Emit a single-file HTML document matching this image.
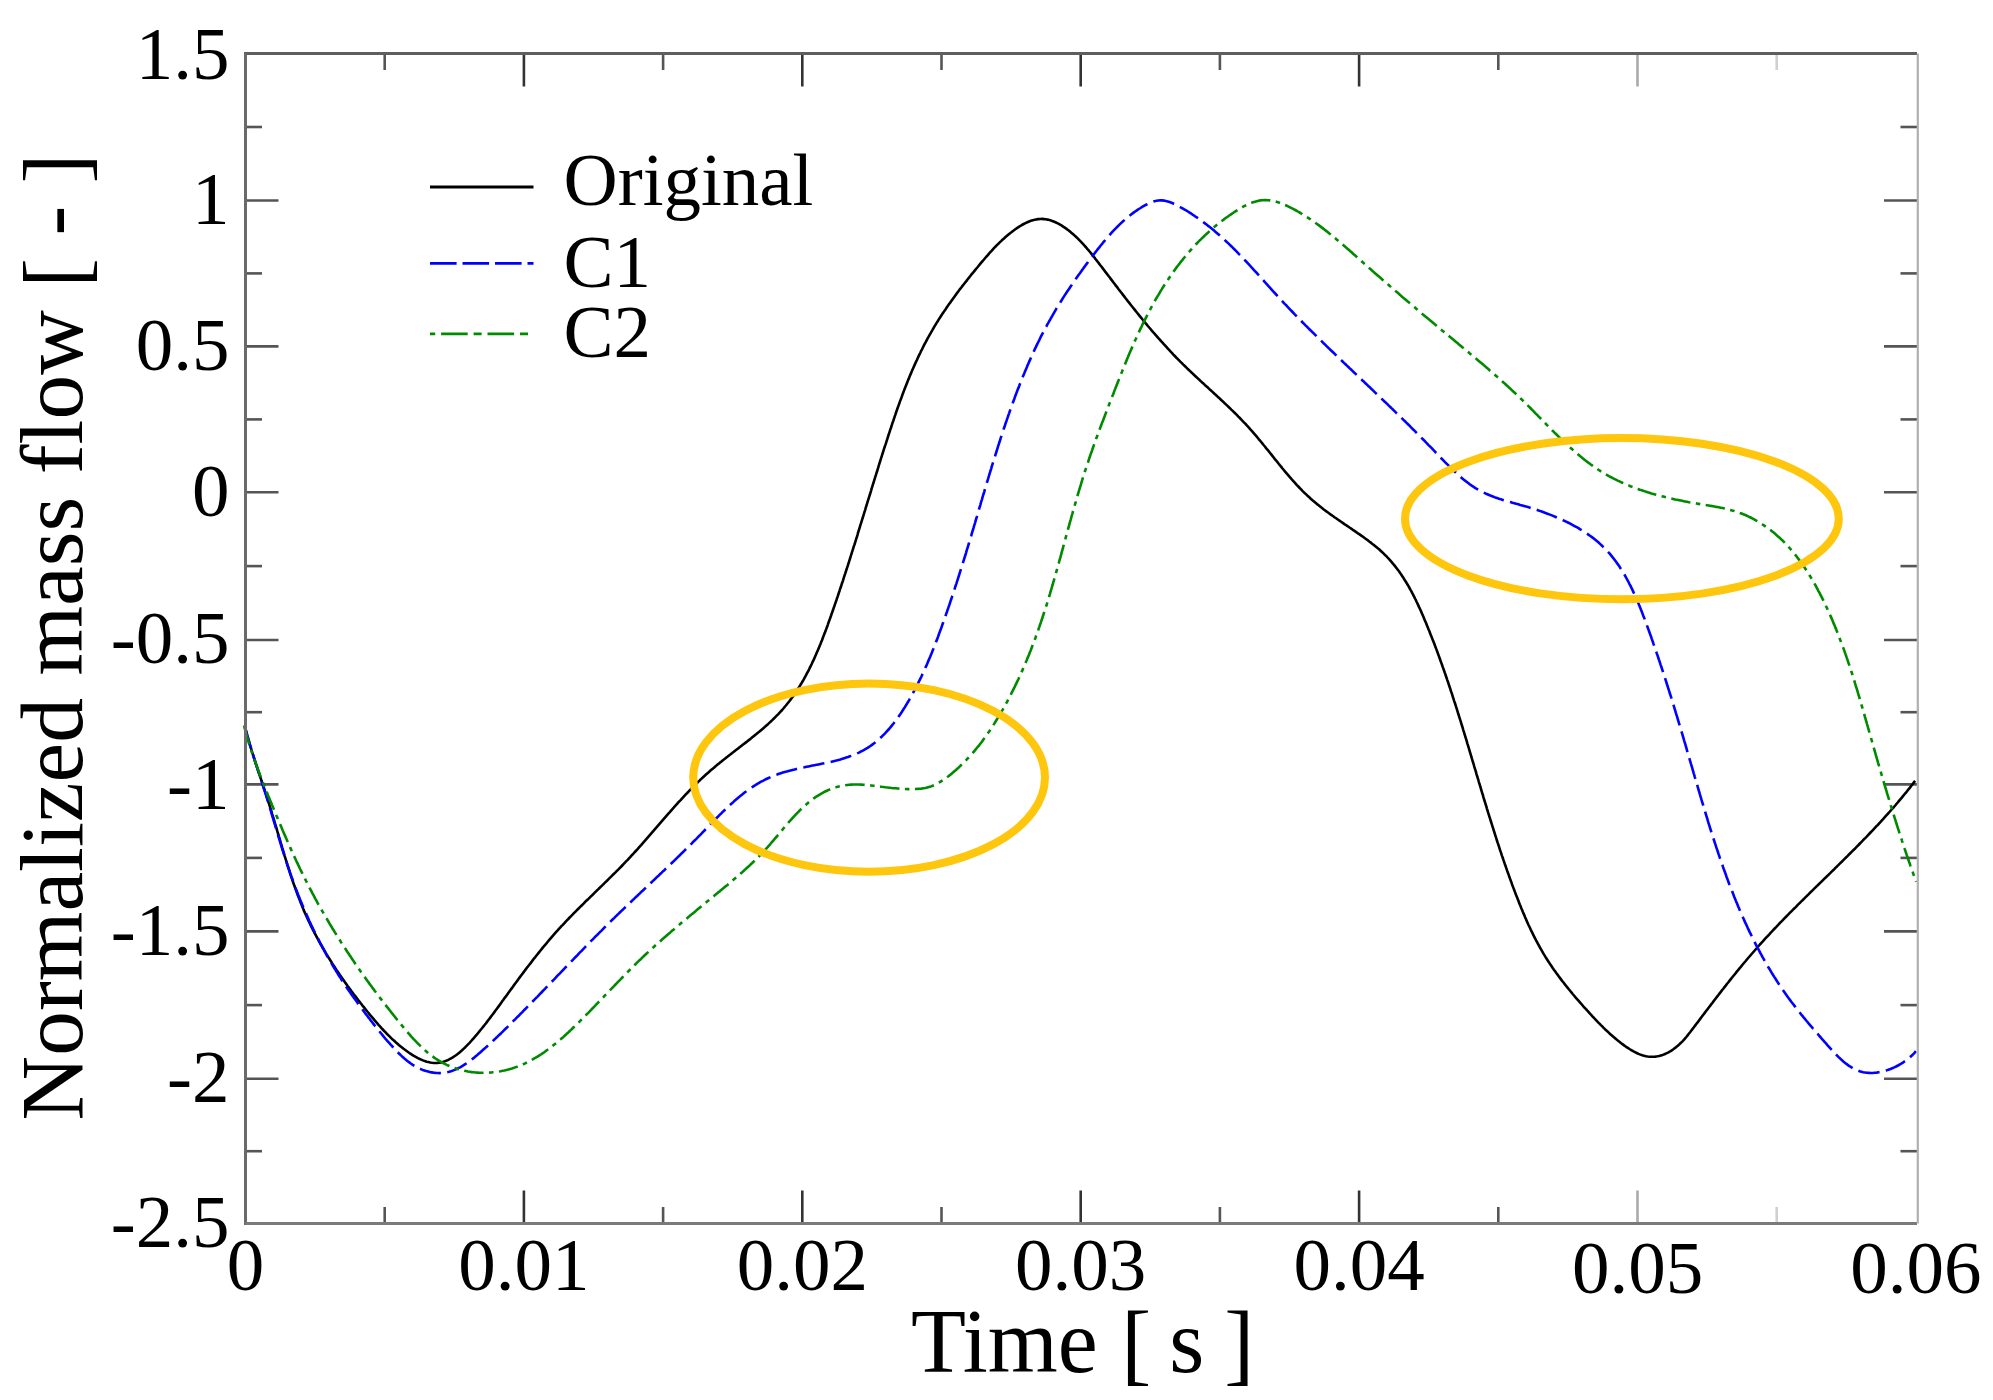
<!DOCTYPE html>
<html><head><meta charset="utf-8"><title>Normalized mass flow</title>
<style>html,body{margin:0;padding:0;background:#fff;width:1993px;height:1400px;overflow:hidden}svg{display:block}</style>
</head><body>
<svg xmlns="http://www.w3.org/2000/svg" width="1993" height="1400" viewBox="0 0 1993 1400">
<rect width="1993" height="1400" fill="#fff"/>
<g stroke-width="2.6" fill="none"><line x1="384.7" y1="53.5" x2="384.7" y2="70.0" stroke="#555"/><line x1="384.7" y1="1223.5" x2="384.7" y2="1207.0" stroke="#555"/><line x1="523.9" y1="53.5" x2="523.9" y2="86.5" stroke="#333"/><line x1="523.9" y1="1223.5" x2="523.9" y2="1190.5" stroke="#333"/><line x1="663.1" y1="53.5" x2="663.1" y2="70.0" stroke="#555"/><line x1="663.1" y1="1223.5" x2="663.1" y2="1207.0" stroke="#555"/><line x1="802.3" y1="53.5" x2="802.3" y2="86.5" stroke="#333"/><line x1="802.3" y1="1223.5" x2="802.3" y2="1190.5" stroke="#333"/><line x1="941.5" y1="53.5" x2="941.5" y2="70.0" stroke="#555"/><line x1="941.5" y1="1223.5" x2="941.5" y2="1207.0" stroke="#555"/><line x1="1080.7" y1="53.5" x2="1080.7" y2="86.5" stroke="#333"/><line x1="1080.7" y1="1223.5" x2="1080.7" y2="1190.5" stroke="#333"/><line x1="1219.9" y1="53.5" x2="1219.9" y2="70.0" stroke="#555"/><line x1="1219.9" y1="1223.5" x2="1219.9" y2="1207.0" stroke="#555"/><line x1="1359.1" y1="53.5" x2="1359.1" y2="86.5" stroke="#333"/><line x1="1359.1" y1="1223.5" x2="1359.1" y2="1190.5" stroke="#333"/><line x1="1498.3" y1="53.5" x2="1498.3" y2="70.0" stroke="#555"/><line x1="1498.3" y1="1223.5" x2="1498.3" y2="1207.0" stroke="#555"/><line x1="1637.5" y1="53.5" x2="1637.5" y2="86.5" stroke="#aaa"/><line x1="1637.5" y1="1223.5" x2="1637.5" y2="1190.5" stroke="#aaa"/><line x1="1776.7" y1="53.5" x2="1776.7" y2="70.0" stroke="#d0d0d0"/><line x1="1776.7" y1="1223.5" x2="1776.7" y2="1207.0" stroke="#d0d0d0"/><line x1="245.5" y1="127.0" x2="262.0" y2="127.0" stroke="#555"/><line x1="1917.0" y1="127.0" x2="1900.5" y2="127.0" stroke="#555"/><line x1="245.5" y1="200.5" x2="278.5" y2="200.5" stroke="#555"/><line x1="1917.0" y1="200.5" x2="1884.0" y2="200.5" stroke="#555"/><line x1="245.5" y1="273.4" x2="262.0" y2="273.4" stroke="#555"/><line x1="1917.0" y1="273.4" x2="1900.5" y2="273.4" stroke="#555"/><line x1="245.5" y1="346.4" x2="278.5" y2="346.4" stroke="#555"/><line x1="1917.0" y1="346.4" x2="1884.0" y2="346.4" stroke="#555"/><line x1="245.5" y1="419.4" x2="262.0" y2="419.4" stroke="#555"/><line x1="1917.0" y1="419.4" x2="1900.5" y2="419.4" stroke="#555"/><line x1="245.5" y1="492.3" x2="278.5" y2="492.3" stroke="#555"/><line x1="1917.0" y1="492.3" x2="1884.0" y2="492.3" stroke="#555"/><line x1="245.5" y1="566.1" x2="262.0" y2="566.1" stroke="#555"/><line x1="1917.0" y1="566.1" x2="1900.5" y2="566.1" stroke="#555"/><line x1="245.5" y1="640.0" x2="278.5" y2="640.0" stroke="#555"/><line x1="1917.0" y1="640.0" x2="1884.0" y2="640.0" stroke="#555"/><line x1="245.5" y1="712.2" x2="262.0" y2="712.2" stroke="#555"/><line x1="1917.0" y1="712.2" x2="1900.5" y2="712.2" stroke="#555"/><line x1="245.5" y1="784.4" x2="278.5" y2="784.4" stroke="#555"/><line x1="1917.0" y1="784.4" x2="1884.0" y2="784.4" stroke="#555"/><line x1="245.5" y1="857.9" x2="262.0" y2="857.9" stroke="#555"/><line x1="1917.0" y1="857.9" x2="1900.5" y2="857.9" stroke="#555"/><line x1="245.5" y1="931.4" x2="278.5" y2="931.4" stroke="#555"/><line x1="1917.0" y1="931.4" x2="1884.0" y2="931.4" stroke="#555"/><line x1="245.5" y1="1005.1" x2="262.0" y2="1005.1" stroke="#555"/><line x1="1917.0" y1="1005.1" x2="1900.5" y2="1005.1" stroke="#555"/><line x1="245.5" y1="1078.8" x2="278.5" y2="1078.8" stroke="#555"/><line x1="1917.0" y1="1078.8" x2="1884.0" y2="1078.8" stroke="#555"/><line x1="245.5" y1="1151.2" x2="262.0" y2="1151.2" stroke="#555"/><line x1="1917.0" y1="1151.2" x2="1900.5" y2="1151.2" stroke="#555"/></g>
<g fill="none" stroke-width="2.6" stroke-linejoin="round">
<path d="M245.3,728.0 L245.7,729.8 L246.2,731.7 L246.7,733.6 L247.2,735.4 L247.8,737.3 L248.3,739.1 L248.8,741.0 L249.4,742.9 L249.9,744.8 L250.5,746.6 L251.1,748.5 L251.6,750.4 L252.2,752.3 L252.8,754.2 L253.4,756.1 L254.0,758.0 L254.6,759.9 L255.2,761.8 L255.8,763.7 L256.5,765.6 L257.1,767.5 L257.7,769.4 L258.3,771.3 L259.0,773.2 L259.6,775.1 L260.2,777.0 L260.9,778.9 L261.5,780.8 L262.2,782.8 L262.8,784.7 L263.4,786.6 L264.1,788.5 L264.7,790.4 L265.3,792.4 L266.0,794.3 L266.6,796.2 L267.2,798.1 L267.8,800.1 L268.4,802.0 L269.1,803.9 L269.7,805.8 L270.3,807.8 L270.9,809.7 L271.5,811.6 L272.0,813.5 L272.6,815.5 L273.2,817.4 L273.8,819.3 L274.4,821.2 L274.9,823.2 L275.5,825.1 L276.1,827.0 L276.7,828.9 L277.2,830.9 L277.8,832.8 L278.4,834.7 L278.9,836.6 L279.5,838.5 L280.1,840.5 L280.6,842.4 L281.2,844.3 L281.8,846.2 L282.3,848.1 L282.9,850.0 L283.5,852.0 L284.1,853.9 L284.6,855.8 L285.2,857.7 L285.8,859.6 L286.4,861.5 L287.0,863.4 L287.6,865.3 L288.2,867.2 L288.8,869.1 L289.4,871.0 L290.0,872.9 L290.6,874.8 L291.2,876.6 L291.9,878.5 L292.5,880.4 L293.1,882.3 L293.8,884.2 L294.5,886.0 L295.1,887.9 L295.8,889.8 L296.5,891.6 L297.2,893.5 L297.8,895.3 L298.6,897.2 L299.3,899.0 L300.0,900.9 L300.7,902.7 L301.5,904.6 L302.2,906.4 L303.0,908.2 L303.7,910.1 L304.5,911.9 L305.3,913.7 L306.1,915.5 L307.0,917.3 L307.8,919.1 L308.6,920.9 L309.5,922.7 L310.3,924.5 L311.2,926.3 L312.1,928.1 L313.0,929.9 L313.9,931.7 L314.8,933.5 L315.8,935.2 L316.7,937.0 L317.7,938.7 L318.6,940.5 L319.6,942.3 L320.6,944.0 L321.6,945.7 L322.6,947.5 L323.6,949.2 L324.6,950.9 L325.6,952.7 L326.6,954.4 L327.7,956.1 L328.7,957.8 L329.8,959.5 L330.9,961.2 L331.9,962.9 L333.0,964.6 L334.1,966.3 L335.2,968.0 L336.3,969.7 L337.4,971.3 L338.6,973.0 L339.7,974.7 L340.8,976.3 L342.0,978.0 L343.1,979.6 L344.3,981.3 L345.4,982.9 L346.6,984.5 L347.8,986.2 L349.0,987.8 L350.1,989.4 L351.3,991.0 L352.5,992.6 L353.7,994.2 L355.0,995.8 L356.2,997.4 L357.4,999.0 L358.6,1000.6 L359.8,1002.1 L361.1,1003.7 L362.3,1005.3 L363.6,1006.8 L364.8,1008.4 L366.1,1010.0 L367.3,1011.5 L368.6,1013.0 L369.8,1014.6 L371.1,1016.1 L372.4,1017.6 L373.7,1019.1 L374.9,1020.6 L376.2,1022.1 L377.5,1023.6 L378.8,1025.1 L380.2,1026.6 L381.5,1028.1 L382.8,1029.5 L384.2,1031.0 L385.6,1032.4 L386.9,1033.9 L388.4,1035.3 L389.8,1036.7 L391.2,1038.1 L392.7,1039.5 L394.2,1040.8 L395.7,1042.2 L397.2,1043.5 L398.8,1044.9 L400.4,1046.2 L402.0,1047.5 L403.6,1048.8 L405.3,1050.0 L407.0,1051.3 L408.7,1052.5 L410.4,1053.7 L412.2,1054.8 L413.9,1055.9 L415.7,1056.9 L417.5,1057.9 L419.3,1058.8 L421.2,1059.6 L423.0,1060.4 L424.8,1061.1 L426.6,1061.7 L428.4,1062.1 L430.2,1062.5 L432.1,1062.8 L433.9,1063.0 L435.6,1063.0 L437.4,1062.9 L439.2,1062.7 L440.9,1062.4 L442.7,1062.0 L444.4,1061.4 L446.1,1060.8 L447.8,1060.1 L449.5,1059.2 L451.1,1058.3 L452.8,1057.4 L454.4,1056.3 L456.0,1055.2 L457.6,1054.0 L459.2,1052.7 L460.7,1051.4 L462.3,1050.0 L463.8,1048.6 L465.3,1047.2 L466.8,1045.7 L468.3,1044.1 L469.8,1042.6 L471.2,1041.0 L472.6,1039.4 L474.0,1037.8 L475.4,1036.2 L476.8,1034.6 L478.1,1033.0 L479.4,1031.4 L480.7,1029.8 L482.0,1028.2 L483.3,1026.6 L484.6,1025.0 L485.8,1023.5 L487.0,1021.9 L488.2,1020.3 L489.4,1018.7 L490.6,1017.1 L491.8,1015.5 L493.0,1014.0 L494.2,1012.4 L495.3,1010.8 L496.5,1009.2 L497.6,1007.7 L498.8,1006.1 L500.0,1004.5 L501.1,1002.9 L502.2,1001.3 L503.4,999.7 L504.5,998.1 L505.7,996.6 L506.9,995.0 L508.0,993.4 L509.2,991.8 L510.3,990.2 L511.5,988.6 L512.7,987.0 L513.8,985.4 L515.0,983.8 L516.2,982.2 L517.4,980.6 L518.5,979.0 L519.7,977.4 L520.9,975.8 L522.1,974.2 L523.3,972.6 L524.5,971.0 L525.7,969.4 L526.9,967.8 L528.1,966.2 L529.3,964.7 L530.6,963.1 L531.8,961.5 L533.0,959.9 L534.2,958.3 L535.5,956.8 L536.7,955.2 L538.0,953.6 L539.2,952.1 L540.5,950.5 L541.8,948.9 L543.0,947.4 L544.3,945.8 L545.6,944.3 L546.9,942.8 L548.2,941.2 L549.5,939.7 L550.8,938.2 L552.1,936.7 L553.4,935.2 L554.7,933.7 L556.0,932.2 L557.4,930.7 L558.7,929.2 L560.1,927.7 L561.4,926.2 L562.8,924.8 L564.2,923.3 L565.5,921.9 L566.9,920.4 L568.3,919.0 L569.7,917.5 L571.1,916.1 L572.5,914.7 L573.9,913.2 L575.3,911.8 L576.7,910.4 L578.1,909.0 L579.5,907.6 L580.9,906.2 L582.4,904.8 L583.8,903.4 L585.2,901.9 L586.6,900.5 L588.1,899.2 L589.5,897.8 L590.9,896.4 L592.4,895.0 L593.8,893.6 L595.2,892.2 L596.6,890.8 L598.1,889.4 L599.5,888.0 L600.9,886.6 L602.4,885.2 L603.8,883.8 L605.2,882.4 L606.7,881.0 L608.1,879.6 L609.5,878.2 L610.9,876.8 L612.3,875.4 L613.7,874.0 L615.2,872.6 L616.6,871.2 L618.0,869.8 L619.4,868.4 L620.8,867.0 L622.2,865.5 L623.5,864.1 L624.9,862.7 L626.3,861.2 L627.7,859.8 L629.0,858.4 L630.4,856.9 L631.7,855.4 L633.1,854.0 L634.4,852.5 L635.8,851.0 L637.1,849.6 L638.4,848.1 L639.7,846.6 L641.1,845.1 L642.4,843.6 L643.7,842.1 L645.0,840.7 L646.3,839.2 L647.6,837.7 L648.9,836.2 L650.2,834.7 L651.5,833.2 L652.8,831.7 L654.1,830.1 L655.4,828.6 L656.7,827.1 L658.0,825.6 L659.3,824.1 L660.6,822.6 L661.9,821.1 L663.2,819.6 L664.5,818.1 L665.8,816.6 L667.1,815.1 L668.4,813.6 L669.8,812.1 L671.1,810.6 L672.4,809.1 L673.7,807.7 L675.0,806.2 L676.4,804.7 L677.7,803.2 L679.0,801.7 L680.4,800.3 L681.7,798.8 L683.1,797.3 L684.4,795.9 L685.8,794.4 L687.2,793.0 L688.5,791.6 L689.9,790.1 L691.3,788.7 L692.7,787.3 L694.1,785.9 L695.5,784.5 L697.0,783.1 L698.4,781.7 L699.8,780.3 L701.3,778.9 L702.8,777.5 L704.2,776.2 L705.7,774.8 L707.2,773.5 L708.7,772.2 L710.2,770.8 L711.7,769.5 L713.3,768.2 L714.8,766.9 L716.4,765.6 L717.9,764.3 L719.5,763.1 L721.1,761.8 L722.6,760.5 L724.2,759.3 L725.8,758.0 L727.4,756.8 L729.0,755.5 L730.6,754.3 L732.2,753.0 L733.8,751.8 L735.4,750.5 L737.0,749.3 L738.6,748.1 L740.2,746.8 L741.8,745.6 L743.4,744.3 L745.0,743.1 L746.6,741.9 L748.2,740.6 L749.8,739.4 L751.4,738.1 L752.9,736.8 L754.5,735.6 L756.1,734.3 L757.6,733.0 L759.2,731.8 L760.7,730.5 L762.2,729.2 L763.7,727.9 L765.2,726.6 L766.7,725.2 L768.2,723.9 L769.6,722.6 L771.1,721.2 L772.5,719.9 L773.9,718.5 L775.3,717.1 L776.7,715.7 L778.1,714.3 L779.4,712.9 L780.8,711.4 L782.1,710.0 L783.4,708.5 L784.6,707.0 L785.9,705.5 L787.1,704.0 L788.3,702.5 L789.5,701.0 L790.7,699.4 L791.9,697.8 L793.0,696.3 L794.1,694.7 L795.2,693.1 L796.3,691.4 L797.4,689.8 L798.4,688.2 L799.5,686.5 L800.5,684.8 L801.5,683.2 L802.5,681.5 L803.5,679.8 L804.4,678.1 L805.4,676.3 L806.3,674.6 L807.2,672.9 L808.2,671.1 L809.1,669.3 L809.9,667.6 L810.8,665.8 L811.7,664.0 L812.5,662.2 L813.4,660.4 L814.2,658.6 L815.0,656.8 L815.8,655.0 L816.6,653.1 L817.4,651.3 L818.2,649.5 L819.0,647.6 L819.7,645.8 L820.5,643.9 L821.2,642.0 L822.0,640.2 L822.7,638.3 L823.4,636.4 L824.1,634.5 L824.9,632.6 L825.6,630.8 L826.3,628.9 L827.0,627.0 L827.7,625.1 L828.3,623.2 L829.0,621.3 L829.7,619.4 L830.4,617.5 L831.1,615.5 L831.7,613.6 L832.4,611.7 L833.1,609.8 L833.7,607.9 L834.4,606.0 L835.0,604.1 L835.7,602.2 L836.4,600.2 L837.0,598.3 L837.7,596.4 L838.3,594.5 L838.9,592.6 L839.6,590.7 L840.2,588.7 L840.9,586.8 L841.5,584.9 L842.1,583.0 L842.8,581.1 L843.4,579.1 L844.0,577.2 L844.6,575.3 L845.3,573.4 L845.9,571.4 L846.5,569.5 L847.1,567.6 L847.8,565.7 L848.4,563.7 L849.0,561.8 L849.6,559.9 L850.2,558.0 L850.8,556.0 L851.4,554.1 L852.0,552.2 L852.6,550.3 L853.2,548.3 L853.8,546.4 L854.5,544.5 L855.1,542.6 L855.7,540.6 L856.3,538.7 L856.9,536.8 L857.5,534.8 L858.0,532.9 L858.6,531.0 L859.2,529.1 L859.8,527.1 L860.4,525.2 L861.0,523.3 L861.6,521.4 L862.2,519.4 L862.8,517.5 L863.4,515.6 L864.0,513.7 L864.6,511.7 L865.2,509.8 L865.7,507.9 L866.3,506.0 L866.9,504.1 L867.5,502.1 L868.1,500.2 L868.7,498.3 L869.3,496.4 L869.9,494.5 L870.5,492.6 L871.1,490.6 L871.6,488.7 L872.2,486.8 L872.8,484.9 L873.4,483.0 L874.0,481.1 L874.6,479.2 L875.2,477.2 L875.8,475.3 L876.4,473.4 L877.0,471.5 L877.6,469.6 L878.2,467.7 L878.7,465.8 L879.3,463.9 L879.9,462.0 L880.5,460.1 L881.1,458.2 L881.7,456.3 L882.3,454.4 L882.9,452.5 L883.5,450.6 L884.1,448.7 L884.7,446.8 L885.4,444.9 L886.0,443.1 L886.6,441.2 L887.2,439.3 L887.8,437.4 L888.4,435.5 L889.0,433.6 L889.6,431.8 L890.2,429.9 L890.9,428.0 L891.5,426.1 L892.1,424.2 L892.7,422.4 L893.4,420.5 L894.0,418.6 L894.6,416.8 L895.3,414.9 L895.9,413.0 L896.5,411.2 L897.2,409.3 L897.8,407.5 L898.5,405.6 L899.2,403.8 L899.8,401.9 L900.5,400.1 L901.2,398.2 L901.9,396.4 L902.5,394.5 L903.2,392.7 L903.9,390.9 L904.6,389.0 L905.3,387.2 L906.1,385.4 L906.8,383.5 L907.5,381.7 L908.2,379.9 L909.0,378.1 L909.7,376.2 L910.5,374.4 L911.3,372.6 L912.0,370.8 L912.8,369.0 L913.6,367.2 L914.4,365.4 L915.2,363.6 L916.0,361.8 L916.9,360.0 L917.7,358.2 L918.5,356.4 L919.4,354.6 L920.3,352.8 L921.1,351.0 L922.0,349.3 L922.9,347.5 L923.8,345.7 L924.7,343.9 L925.7,342.2 L926.6,340.4 L927.5,338.6 L928.5,336.9 L929.5,335.1 L930.5,333.4 L931.5,331.6 L932.5,329.9 L933.5,328.1 L934.5,326.4 L935.6,324.6 L936.6,322.9 L937.7,321.2 L938.8,319.4 L939.9,317.7 L941.0,316.0 L942.1,314.3 L943.3,312.6 L944.4,310.9 L945.6,309.2 L946.7,307.5 L947.9,305.8 L949.1,304.1 L950.3,302.4 L951.5,300.7 L952.7,299.1 L953.9,297.4 L955.1,295.7 L956.3,294.1 L957.5,292.4 L958.8,290.8 L960.0,289.1 L961.3,287.5 L962.5,285.9 L963.8,284.3 L965.0,282.7 L966.3,281.1 L967.5,279.5 L968.8,277.9 L970.1,276.3 L971.3,274.7 L972.6,273.2 L973.9,271.6 L975.1,270.1 L976.4,268.5 L977.7,267.0 L978.9,265.5 L980.2,263.9 L981.4,262.4 L982.7,261.0 L984.0,259.5 L985.2,258.0 L986.5,256.5 L987.8,255.1 L989.0,253.6 L990.3,252.2 L991.6,250.8 L992.9,249.3 L994.2,247.9 L995.6,246.5 L996.9,245.2 L998.3,243.8 L999.7,242.4 L1001.1,241.1 L1002.5,239.7 L1004.0,238.4 L1005.5,237.1 L1007.0,235.8 L1008.5,234.5 L1010.1,233.2 L1011.7,232.0 L1013.3,230.7 L1015.0,229.5 L1016.7,228.3 L1018.4,227.2 L1020.1,226.1 L1021.9,225.0 L1023.7,224.0 L1025.5,223.1 L1027.3,222.3 L1029.1,221.5 L1030.9,220.8 L1032.8,220.2 L1034.6,219.8 L1036.5,219.4 L1038.3,219.1 L1040.2,219.0 L1042.0,218.9 L1043.9,219.1 L1045.7,219.3 L1047.6,219.6 L1049.4,220.1 L1051.2,220.6 L1053.0,221.3 L1054.8,222.0 L1056.6,222.8 L1058.4,223.7 L1060.1,224.7 L1061.8,225.7 L1063.5,226.8 L1065.2,227.9 L1066.8,229.1 L1068.4,230.3 L1070.0,231.6 L1071.6,232.9 L1073.2,234.2 L1074.7,235.6 L1076.2,237.0 L1077.7,238.4 L1079.1,239.9 L1080.6,241.4 L1082.0,242.9 L1083.4,244.4 L1084.8,246.0 L1086.2,247.5 L1087.5,249.1 L1088.9,250.7 L1090.2,252.3 L1091.5,253.9 L1092.8,255.5 L1094.1,257.1 L1095.3,258.8 L1096.6,260.4 L1097.9,262.0 L1099.1,263.6 L1100.3,265.2 L1101.6,266.8 L1102.8,268.4 L1104.0,270.0 L1105.2,271.6 L1106.4,273.1 L1107.6,274.7 L1108.8,276.3 L1110.0,277.8 L1111.1,279.4 L1112.3,280.9 L1113.5,282.5 L1114.7,284.0 L1115.9,285.6 L1117.1,287.1 L1118.2,288.7 L1119.4,290.2 L1120.6,291.8 L1121.8,293.3 L1123.0,294.9 L1124.2,296.4 L1125.4,298.0 L1126.6,299.5 L1127.8,301.1 L1129.1,302.6 L1130.3,304.2 L1131.5,305.8 L1132.7,307.3 L1134.0,308.9 L1135.2,310.4 L1136.5,312.0 L1137.7,313.5 L1139.0,315.1 L1140.2,316.7 L1141.5,318.2 L1142.8,319.8 L1144.1,321.3 L1145.3,322.9 L1146.6,324.4 L1147.9,326.0 L1149.2,327.5 L1150.5,329.0 L1151.8,330.6 L1153.1,332.1 L1154.5,333.6 L1155.8,335.2 L1157.1,336.7 L1158.4,338.2 L1159.8,339.7 L1161.1,341.2 L1162.5,342.7 L1163.8,344.2 L1165.2,345.7 L1166.6,347.2 L1167.9,348.7 L1169.3,350.2 L1170.7,351.7 L1172.1,353.1 L1173.4,354.6 L1174.8,356.0 L1176.2,357.5 L1177.6,358.9 L1179.1,360.4 L1180.5,361.8 L1181.9,363.2 L1183.3,364.6 L1184.8,366.0 L1186.2,367.4 L1187.6,368.8 L1189.1,370.2 L1190.5,371.6 L1192.0,372.9 L1193.4,374.3 L1194.9,375.7 L1196.3,377.0 L1197.8,378.4 L1199.3,379.8 L1200.7,381.1 L1202.2,382.5 L1203.7,383.8 L1205.1,385.2 L1206.6,386.5 L1208.1,387.8 L1209.5,389.2 L1211.0,390.5 L1212.5,391.9 L1213.9,393.2 L1215.4,394.6 L1216.9,395.9 L1218.3,397.3 L1219.8,398.6 L1221.2,400.0 L1222.7,401.3 L1224.1,402.7 L1225.6,404.1 L1227.0,405.4 L1228.4,406.8 L1229.9,408.2 L1231.3,409.6 L1232.7,410.9 L1234.1,412.3 L1235.6,413.7 L1237.0,415.1 L1238.4,416.6 L1239.8,418.0 L1241.1,419.4 L1242.5,420.8 L1243.9,422.3 L1245.3,423.7 L1246.6,425.2 L1248.0,426.7 L1249.3,428.1 L1250.6,429.6 L1252.0,431.1 L1253.3,432.6 L1254.6,434.2 L1255.9,435.7 L1257.2,437.2 L1258.5,438.8 L1259.8,440.3 L1261.0,441.8 L1262.3,443.4 L1263.6,445.0 L1264.9,446.5 L1266.1,448.1 L1267.4,449.7 L1268.7,451.2 L1269.9,452.8 L1271.2,454.4 L1272.4,455.9 L1273.7,457.5 L1274.9,459.1 L1276.2,460.7 L1277.5,462.2 L1278.7,463.8 L1280.0,465.4 L1281.3,466.9 L1282.5,468.5 L1283.8,470.0 L1285.1,471.6 L1286.4,473.1 L1287.7,474.6 L1289.0,476.1 L1290.3,477.7 L1291.6,479.2 L1292.9,480.6 L1294.3,482.1 L1295.6,483.6 L1296.9,485.1 L1298.3,486.5 L1299.7,488.0 L1301.1,489.4 L1302.4,490.8 L1303.8,492.2 L1305.3,493.6 L1306.7,494.9 L1308.1,496.3 L1309.6,497.6 L1311.0,499.0 L1312.5,500.3 L1314.0,501.5 L1315.5,502.8 L1317.0,504.1 L1318.6,505.3 L1320.1,506.5 L1321.7,507.8 L1323.2,509.0 L1324.8,510.2 L1326.4,511.4 L1328.0,512.5 L1329.6,513.7 L1331.2,514.9 L1332.9,516.0 L1334.5,517.2 L1336.1,518.3 L1337.8,519.5 L1339.4,520.6 L1341.1,521.8 L1342.7,522.9 L1344.4,524.1 L1346.1,525.2 L1347.8,526.3 L1349.5,527.5 L1351.2,528.6 L1352.8,529.8 L1354.5,530.9 L1356.2,532.1 L1357.9,533.3 L1359.6,534.4 L1361.3,535.6 L1363.0,536.8 L1364.6,538.0 L1366.3,539.2 L1368.0,540.4 L1369.6,541.7 L1371.2,542.9 L1372.8,544.2 L1374.4,545.4 L1376.0,546.7 L1377.5,548.0 L1379.1,549.3 L1380.6,550.7 L1382.0,552.0 L1383.5,553.4 L1384.9,554.8 L1386.3,556.2 L1387.7,557.7 L1389.1,559.1 L1390.4,560.6 L1391.7,562.1 L1392.9,563.6 L1394.2,565.1 L1395.4,566.6 L1396.6,568.2 L1397.8,569.8 L1399.0,571.3 L1400.1,572.9 L1401.2,574.6 L1402.3,576.2 L1403.4,577.8 L1404.4,579.5 L1405.5,581.2 L1406.5,582.8 L1407.5,584.5 L1408.5,586.2 L1409.5,588.0 L1410.4,589.7 L1411.4,591.4 L1412.3,593.2 L1413.2,594.9 L1414.1,596.7 L1415.0,598.5 L1415.9,600.2 L1416.7,602.0 L1417.6,603.8 L1418.4,605.6 L1419.2,607.4 L1420.1,609.2 L1420.9,611.1 L1421.7,612.9 L1422.5,614.7 L1423.3,616.5 L1424.0,618.4 L1424.8,620.2 L1425.6,622.1 L1426.4,623.9 L1427.1,625.8 L1427.9,627.6 L1428.6,629.5 L1429.4,631.3 L1430.1,633.2 L1430.8,635.0 L1431.6,636.9 L1432.3,638.7 L1433.0,640.6 L1433.8,642.5 L1434.5,644.3 L1435.2,646.2 L1435.9,648.1 L1436.6,649.9 L1437.3,651.8 L1438.0,653.7 L1438.7,655.6 L1439.4,657.5 L1440.0,659.3 L1440.7,661.2 L1441.4,663.1 L1442.1,665.0 L1442.7,666.9 L1443.4,668.8 L1444.1,670.7 L1444.7,672.5 L1445.4,674.4 L1446.0,676.3 L1446.7,678.2 L1447.3,680.1 L1448.0,682.0 L1448.6,683.9 L1449.2,685.8 L1449.9,687.7 L1450.5,689.6 L1451.1,691.5 L1451.8,693.4 L1452.4,695.4 L1453.0,697.3 L1453.6,699.2 L1454.2,701.1 L1454.9,703.0 L1455.5,704.9 L1456.1,706.8 L1456.7,708.7 L1457.3,710.6 L1457.9,712.6 L1458.5,714.5 L1459.1,716.4 L1459.7,718.3 L1460.3,720.2 L1460.9,722.1 L1461.5,724.1 L1462.1,726.0 L1462.7,727.9 L1463.2,729.8 L1463.8,731.7 L1464.4,733.7 L1465.0,735.6 L1465.6,737.5 L1466.2,739.4 L1466.8,741.4 L1467.3,743.3 L1467.9,745.2 L1468.5,747.1 L1469.1,749.1 L1469.6,751.0 L1470.2,752.9 L1470.8,754.8 L1471.4,756.8 L1471.9,758.7 L1472.5,760.6 L1473.1,762.5 L1473.7,764.5 L1474.2,766.4 L1474.8,768.3 L1475.4,770.2 L1476.0,772.1 L1476.5,774.1 L1477.1,776.0 L1477.7,777.9 L1478.3,779.8 L1478.8,781.8 L1479.4,783.7 L1480.0,785.6 L1480.6,787.5 L1481.1,789.5 L1481.7,791.4 L1482.3,793.3 L1482.9,795.2 L1483.4,797.1 L1484.0,799.1 L1484.6,801.0 L1485.2,802.9 L1485.8,804.8 L1486.4,806.7 L1486.9,808.6 L1487.5,810.5 L1488.1,812.5 L1488.7,814.4 L1489.3,816.3 L1489.9,818.2 L1490.5,820.1 L1491.1,822.0 L1491.7,823.9 L1492.3,825.8 L1492.9,827.7 L1493.5,829.6 L1494.1,831.5 L1494.7,833.4 L1495.3,835.3 L1495.9,837.2 L1496.5,839.1 L1497.1,841.0 L1497.7,842.9 L1498.4,844.8 L1499.0,846.7 L1499.6,848.6 L1500.2,850.5 L1500.9,852.4 L1501.5,854.3 L1502.1,856.1 L1502.8,858.0 L1503.4,859.9 L1504.1,861.8 L1504.7,863.7 L1505.4,865.5 L1506.0,867.4 L1506.7,869.3 L1507.3,871.2 L1508.0,873.0 L1508.7,874.9 L1509.3,876.8 L1510.0,878.6 L1510.7,880.5 L1511.4,882.4 L1512.0,884.2 L1512.7,886.1 L1513.4,887.9 L1514.1,889.8 L1514.8,891.6 L1515.5,893.5 L1516.2,895.3 L1517.0,897.2 L1517.7,899.0 L1518.4,900.8 L1519.1,902.7 L1519.8,904.5 L1520.6,906.3 L1521.3,908.2 L1522.1,910.0 L1522.8,911.8 L1523.6,913.6 L1524.4,915.4 L1525.1,917.2 L1525.9,919.1 L1526.7,920.9 L1527.5,922.7 L1528.3,924.5 L1529.2,926.3 L1530.0,928.0 L1530.8,929.8 L1531.7,931.6 L1532.6,933.4 L1533.4,935.2 L1534.3,936.9 L1535.2,938.7 L1536.1,940.5 L1537.1,942.2 L1538.0,944.0 L1539.0,945.7 L1539.9,947.5 L1540.9,949.2 L1541.9,950.9 L1542.9,952.7 L1543.9,954.4 L1545.0,956.1 L1546.0,957.8 L1547.1,959.5 L1548.2,961.2 L1549.3,962.9 L1550.4,964.6 L1551.6,966.3 L1552.7,968.0 L1553.9,969.7 L1555.1,971.3 L1556.3,973.0 L1557.5,974.6 L1558.7,976.3 L1559.9,977.9 L1561.2,979.6 L1562.4,981.2 L1563.7,982.8 L1564.9,984.4 L1566.2,986.0 L1567.5,987.6 L1568.8,989.2 L1570.1,990.8 L1571.4,992.4 L1572.7,994.0 L1574.0,995.5 L1575.3,997.1 L1576.6,998.6 L1578.0,1000.2 L1579.3,1001.7 L1580.6,1003.2 L1582.0,1004.7 L1583.3,1006.3 L1584.7,1007.8 L1586.0,1009.2 L1587.3,1010.7 L1588.7,1012.2 L1590.0,1013.7 L1591.4,1015.1 L1592.7,1016.6 L1594.1,1018.0 L1595.4,1019.5 L1596.8,1020.9 L1598.1,1022.3 L1599.5,1023.7 L1600.9,1025.1 L1602.3,1026.4 L1603.6,1027.8 L1605.0,1029.2 L1606.4,1030.5 L1607.9,1031.8 L1609.3,1033.2 L1610.7,1034.5 L1612.2,1035.8 L1613.6,1037.0 L1615.1,1038.3 L1616.6,1039.6 L1618.1,1040.8 L1619.7,1042.0 L1621.2,1043.2 L1622.8,1044.4 L1624.4,1045.6 L1626.1,1046.8 L1627.8,1047.9 L1629.5,1049.0 L1631.3,1050.1 L1633.1,1051.2 L1634.9,1052.1 L1636.7,1053.0 L1638.5,1053.9 L1640.4,1054.6 L1642.3,1055.3 L1644.1,1055.8 L1646.0,1056.2 L1647.9,1056.5 L1649.8,1056.7 L1651.7,1056.8 L1653.6,1056.7 L1655.4,1056.6 L1657.3,1056.3 L1659.1,1055.9 L1660.9,1055.4 L1662.7,1054.9 L1664.5,1054.2 L1666.3,1053.4 L1668.0,1052.6 L1669.7,1051.6 L1671.4,1050.6 L1673.0,1049.5 L1674.6,1048.3 L1676.2,1047.1 L1677.8,1045.8 L1679.3,1044.4 L1680.7,1043.0 L1682.2,1041.6 L1683.6,1040.1 L1684.9,1038.6 L1686.3,1037.0 L1687.6,1035.4 L1688.8,1033.8 L1690.1,1032.2 L1691.4,1030.5 L1692.6,1028.9 L1693.9,1027.3 L1695.1,1025.6 L1696.3,1024.0 L1697.6,1022.4 L1698.8,1020.7 L1700.0,1019.1 L1701.2,1017.5 L1702.5,1015.8 L1703.7,1014.2 L1704.9,1012.6 L1706.1,1011.0 L1707.4,1009.4 L1708.6,1007.8 L1709.8,1006.2 L1711.0,1004.6 L1712.3,1003.0 L1713.5,1001.4 L1714.7,999.8 L1715.9,998.2 L1717.1,996.6 L1718.4,995.0 L1719.6,993.4 L1720.8,991.9 L1722.0,990.3 L1723.3,988.7 L1724.5,987.1 L1725.7,985.6 L1726.9,984.0 L1728.2,982.5 L1729.4,980.9 L1730.6,979.4 L1731.9,977.8 L1733.1,976.3 L1734.4,974.7 L1735.6,973.2 L1736.8,971.6 L1738.1,970.1 L1739.3,968.6 L1740.6,967.1 L1741.9,965.5 L1743.1,964.0 L1744.4,962.5 L1745.7,961.0 L1746.9,959.5 L1748.2,958.0 L1749.5,956.5 L1750.8,955.0 L1752.1,953.5 L1753.4,952.0 L1754.7,950.5 L1756.0,949.0 L1757.3,947.5 L1758.6,946.0 L1759.9,944.5 L1761.2,943.1 L1762.6,941.6 L1763.9,940.1 L1765.2,938.7 L1766.6,937.2 L1767.9,935.8 L1769.3,934.3 L1770.6,932.8 L1772.0,931.4 L1773.4,929.9 L1774.7,928.5 L1776.1,927.1 L1777.5,925.6 L1778.9,924.2 L1780.2,922.7 L1781.6,921.3 L1783.0,919.9 L1784.4,918.4 L1785.8,917.0 L1787.2,915.6 L1788.6,914.2 L1790.0,912.7 L1791.4,911.3 L1792.8,909.9 L1794.2,908.5 L1795.7,907.1 L1797.1,905.6 L1798.5,904.2 L1799.9,902.8 L1801.3,901.4 L1802.8,900.0 L1804.2,898.6 L1805.6,897.2 L1807.0,895.8 L1808.5,894.4 L1809.9,892.9 L1811.3,891.5 L1812.8,890.1 L1814.2,888.7 L1815.6,887.3 L1817.1,885.9 L1818.5,884.5 L1819.9,883.1 L1821.4,881.7 L1822.8,880.3 L1824.2,878.9 L1825.7,877.5 L1827.1,876.1 L1828.6,874.7 L1830.0,873.3 L1831.4,871.9 L1832.9,870.5 L1834.3,869.1 L1835.7,867.6 L1837.2,866.2 L1838.6,864.8 L1840.0,863.4 L1841.5,862.0 L1842.9,860.6 L1844.3,859.2 L1845.7,857.8 L1847.2,856.4 L1848.6,854.9 L1850.0,853.5 L1851.4,852.1 L1852.8,850.7 L1854.3,849.3 L1855.7,847.8 L1857.1,846.4 L1858.5,845.0 L1859.9,843.5 L1861.3,842.1 L1862.7,840.7 L1864.1,839.2 L1865.5,837.8 L1866.9,836.4 L1868.3,834.9 L1869.6,833.5 L1871.0,832.0 L1872.4,830.6 L1873.8,829.1 L1875.1,827.7 L1876.5,826.2 L1877.9,824.8 L1879.2,823.3 L1880.6,821.8 L1881.9,820.4 L1883.3,818.9 L1884.6,817.4 L1885.9,815.9 L1887.3,814.4 L1888.6,813.0 L1889.9,811.5 L1891.2,810.0 L1892.5,808.5 L1893.9,807.0 L1895.2,805.5 L1896.4,804.0 L1897.7,802.5 L1899.0,800.9 L1900.3,799.4 L1901.6,797.9 L1902.8,796.4 L1904.1,794.8 L1905.3,793.3 L1906.6,791.8 L1907.8,790.2 L1909.1,788.7 L1910.3,787.1 L1911.5,785.5 L1912.7,784.0 L1913.9,782.4 L1915.1,780.9" stroke="#000"/>
<path d="M245.2,727.8 L245.7,729.7 L246.2,731.5 L246.7,733.4 L247.2,735.3 L247.8,737.2 L248.3,739.1 L248.9,741.0 L249.4,742.9 L250.0,744.8 L250.5,746.7 L251.1,748.6 L251.7,750.5 L252.3,752.4 L252.9,754.3 L253.5,756.2 L254.1,758.1 L254.7,760.0 L255.3,761.9 L255.9,763.8 L256.5,765.7 L257.1,767.6 L257.7,769.6 L258.4,771.5 L259.0,773.4 L259.6,775.3 L260.2,777.2 L260.8,779.1 L261.5,781.0 L262.1,783.0 L262.7,784.9 L263.3,786.8 L263.9,788.7 L264.6,790.6 L265.2,792.5 L265.8,794.5 L266.4,796.4 L267.0,798.3 L267.6,800.2 L268.2,802.1 L268.7,804.0 L269.3,806.0 L269.9,807.9 L270.5,809.8 L271.1,811.7 L271.6,813.6 L272.2,815.6 L272.8,817.5 L273.4,819.4 L273.9,821.3 L274.5,823.2 L275.1,825.1 L275.6,827.0 L276.2,829.0 L276.8,830.9 L277.4,832.8 L277.9,834.7 L278.5,836.6 L279.1,838.5 L279.7,840.4 L280.2,842.3 L280.8,844.2 L281.4,846.1 L282.0,848.1 L282.6,850.0 L283.2,851.9 L283.8,853.8 L284.4,855.7 L285.0,857.6 L285.6,859.5 L286.2,861.4 L286.8,863.2 L287.4,865.1 L288.1,867.0 L288.7,868.9 L289.4,870.8 L290.0,872.7 L290.7,874.6 L291.3,876.5 L292.0,878.3 L292.7,880.2 L293.3,882.1 L294.0,884.0 L294.7,885.8 L295.4,887.7 L296.1,889.6 L296.9,891.5 L297.6,893.3 L298.3,895.2 L299.1,897.0 L299.8,898.9 L300.6,900.8 L301.3,902.6 L302.1,904.5 L302.9,906.3 L303.7,908.1 L304.4,910.0 L305.2,911.8 L306.1,913.6 L306.9,915.5 L307.7,917.3 L308.5,919.1 L309.3,921.0 L310.2,922.8 L311.0,924.6 L311.9,926.4 L312.7,928.2 L313.6,930.0 L314.5,931.8 L315.4,933.6 L316.3,935.4 L317.2,937.2 L318.1,938.9 L319.0,940.7 L319.9,942.5 L320.8,944.3 L321.8,946.0 L322.7,947.8 L323.7,949.5 L324.6,951.3 L325.6,953.0 L326.5,954.8 L327.5,956.5 L328.5,958.2 L329.5,960.0 L330.5,961.7 L331.5,963.4 L332.5,965.1 L333.5,966.8 L334.6,968.5 L335.6,970.2 L336.6,971.9 L337.7,973.6 L338.7,975.3 L339.8,976.9 L340.9,978.6 L341.9,980.3 L343.0,981.9 L344.1,983.6 L345.2,985.2 L346.3,986.9 L347.4,988.5 L348.5,990.1 L349.7,991.7 L350.8,993.4 L351.9,995.0 L353.1,996.6 L354.2,998.2 L355.4,999.8 L356.6,1001.4 L357.7,1003.1 L358.9,1004.7 L360.1,1006.3 L361.3,1007.9 L362.5,1009.5 L363.7,1011.1 L364.9,1012.7 L366.1,1014.4 L367.4,1016.0 L368.6,1017.6 L369.9,1019.2 L371.1,1020.9 L372.4,1022.5 L373.6,1024.1 L374.9,1025.8 L376.2,1027.4 L377.5,1029.0 L378.8,1030.6 L380.1,1032.2 L381.4,1033.8 L382.7,1035.4 L384.0,1037.0 L385.3,1038.6 L386.7,1040.1 L388.0,1041.7 L389.4,1043.2 L390.7,1044.7 L392.1,1046.2 L393.4,1047.7 L394.8,1049.2 L396.2,1050.6 L397.6,1052.1 L399.0,1053.5 L400.4,1054.8 L401.8,1056.2 L403.3,1057.5 L404.7,1058.8 L406.2,1060.0 L407.7,1061.2 L409.3,1062.4 L410.8,1063.5 L412.4,1064.6 L414.0,1065.6 L415.6,1066.6 L417.3,1067.5 L419.0,1068.3 L420.8,1069.1 L422.6,1069.9 L424.4,1070.5 L426.2,1071.1 L428.1,1071.6 L430.0,1072.1 L431.9,1072.4 L433.8,1072.7 L435.7,1072.9 L437.7,1073.0 L439.6,1073.1 L441.5,1073.0 L443.4,1072.9 L445.4,1072.6 L447.3,1072.2 L449.1,1071.8 L451.0,1071.3 L452.8,1070.6 L454.7,1069.9 L456.5,1069.1 L458.3,1068.2 L460.1,1067.3 L461.8,1066.3 L463.6,1065.2 L465.3,1064.1 L467.1,1062.9 L468.8,1061.7 L470.4,1060.5 L472.1,1059.2 L473.8,1057.9 L475.4,1056.5 L477.0,1055.2 L478.6,1053.8 L480.2,1052.4 L481.8,1051.0 L483.4,1049.6 L484.9,1048.3 L486.4,1046.9 L488.0,1045.5 L489.5,1044.1 L491.0,1042.8 L492.4,1041.4 L493.9,1040.0 L495.4,1038.6 L496.8,1037.3 L498.2,1035.9 L499.7,1034.5 L501.1,1033.2 L502.5,1031.8 L503.9,1030.4 L505.3,1029.0 L506.7,1027.7 L508.1,1026.3 L509.5,1024.9 L510.9,1023.5 L512.3,1022.1 L513.7,1020.7 L515.1,1019.3 L516.5,1017.9 L517.9,1016.5 L519.3,1015.2 L520.7,1013.7 L522.1,1012.3 L523.4,1010.9 L524.8,1009.5 L526.2,1008.1 L527.6,1006.7 L529.0,1005.3 L530.4,1003.9 L531.7,1002.5 L533.1,1001.0 L534.5,999.6 L535.9,998.2 L537.3,996.8 L538.7,995.3 L540.0,993.9 L541.4,992.5 L542.8,991.0 L544.2,989.6 L545.6,988.2 L547.0,986.7 L548.3,985.3 L549.7,983.9 L551.1,982.4 L552.5,981.0 L553.9,979.6 L555.3,978.1 L556.6,976.7 L558.0,975.2 L559.4,973.8 L560.8,972.4 L562.2,970.9 L563.6,969.5 L564.9,968.0 L566.3,966.6 L567.7,965.1 L569.1,963.7 L570.5,962.3 L571.9,960.8 L573.3,959.4 L574.7,957.9 L576.1,956.5 L577.5,955.1 L578.8,953.6 L580.2,952.2 L581.6,950.8 L583.0,949.3 L584.4,947.9 L585.8,946.4 L587.2,945.0 L588.6,943.6 L590.0,942.2 L591.4,940.7 L592.8,939.3 L594.2,937.9 L595.6,936.4 L597.1,935.0 L598.5,933.6 L599.9,932.2 L601.3,930.8 L602.7,929.3 L604.1,927.9 L605.5,926.5 L606.9,925.1 L608.4,923.7 L609.8,922.3 L611.2,920.9 L612.6,919.5 L614.1,918.1 L615.5,916.7 L616.9,915.3 L618.4,913.9 L619.8,912.5 L621.2,911.1 L622.7,909.7 L624.1,908.4 L625.5,907.0 L627.0,905.6 L628.4,904.2 L629.9,902.8 L631.3,901.5 L632.7,900.1 L634.2,898.7 L635.6,897.3 L637.1,896.0 L638.5,894.6 L640.0,893.2 L641.4,891.8 L642.9,890.5 L644.3,889.1 L645.8,887.7 L647.2,886.3 L648.7,885.0 L650.1,883.6 L651.6,882.2 L653.0,880.9 L654.5,879.5 L655.9,878.1 L657.3,876.7 L658.8,875.4 L660.2,874.0 L661.7,872.6 L663.1,871.2 L664.6,869.9 L666.0,868.5 L667.5,867.1 L668.9,865.7 L670.3,864.3 L671.8,863.0 L673.2,861.6 L674.7,860.2 L676.1,858.8 L677.5,857.4 L679.0,856.0 L680.4,854.6 L681.8,853.2 L683.3,851.8 L684.7,850.4 L686.1,849.0 L687.5,847.6 L689.0,846.2 L690.4,844.8 L691.8,843.4 L693.2,841.9 L694.6,840.5 L696.1,839.1 L697.5,837.7 L698.9,836.2 L700.3,834.8 L701.7,833.4 L703.1,831.9 L704.5,830.5 L705.9,829.0 L707.3,827.6 L708.7,826.2 L710.1,824.7 L711.5,823.3 L712.9,821.8 L714.3,820.4 L715.7,819.0 L717.1,817.5 L718.5,816.1 L719.9,814.7 L721.3,813.3 L722.7,811.9 L724.2,810.5 L725.6,809.1 L727.0,807.7 L728.5,806.4 L729.9,805.0 L731.4,803.7 L732.9,802.4 L734.3,801.1 L735.8,799.8 L737.3,798.5 L738.8,797.2 L740.3,796.0 L741.9,794.7 L743.4,793.5 L744.9,792.3 L746.5,791.2 L748.1,790.0 L749.7,788.9 L751.3,787.8 L752.9,786.7 L754.5,785.7 L756.1,784.6 L757.8,783.6 L759.5,782.6 L761.1,781.7 L762.9,780.8 L764.6,779.9 L766.3,779.0 L768.1,778.2 L769.9,777.4 L771.6,776.6 L773.5,775.9 L775.3,775.1 L777.1,774.5 L779.0,773.8 L780.9,773.2 L782.8,772.6 L784.7,772.0 L786.7,771.5 L788.6,770.9 L790.5,770.4 L792.5,769.9 L794.5,769.5 L796.5,769.0 L798.5,768.5 L800.5,768.1 L802.5,767.7 L804.5,767.3 L806.5,766.8 L808.5,766.4 L810.5,766.0 L812.5,765.6 L814.6,765.2 L816.6,764.8 L818.6,764.4 L820.6,764.0 L822.6,763.6 L824.6,763.2 L826.6,762.7 L828.6,762.3 L830.6,761.9 L832.6,761.4 L834.6,760.9 L836.5,760.4 L838.5,759.9 L840.4,759.4 L842.4,758.8 L844.3,758.2 L846.2,757.6 L848.0,757.0 L849.9,756.3 L851.8,755.7 L853.6,754.9 L855.4,754.2 L857.2,753.4 L859.0,752.6 L860.7,751.7 L862.4,750.8 L864.1,749.9 L865.8,748.9 L867.5,747.9 L869.1,746.9 L870.7,745.8 L872.3,744.6 L873.8,743.5 L875.4,742.3 L876.9,741.0 L878.4,739.7 L879.8,738.4 L881.3,737.1 L882.7,735.7 L884.1,734.3 L885.5,732.9 L886.8,731.4 L888.1,730.0 L889.5,728.5 L890.8,726.9 L892.0,725.4 L893.3,723.8 L894.5,722.2 L895.8,720.6 L897.0,719.0 L898.1,717.3 L899.3,715.6 L900.5,714.0 L901.6,712.3 L902.7,710.5 L903.8,708.8 L904.9,707.1 L906.0,705.3 L907.0,703.6 L908.1,701.8 L909.1,700.1 L910.1,698.3 L911.1,696.5 L912.1,694.7 L913.1,692.9 L914.0,691.2 L915.0,689.4 L915.9,687.6 L916.8,685.8 L917.7,684.0 L918.6,682.2 L919.5,680.4 L920.4,678.6 L921.3,676.8 L922.1,674.9 L923.0,673.1 L923.8,671.3 L924.6,669.5 L925.4,667.7 L926.3,665.9 L927.1,664.0 L927.8,662.2 L928.6,660.4 L929.4,658.5 L930.2,656.7 L930.9,654.9 L931.7,653.0 L932.4,651.2 L933.2,649.3 L933.9,647.5 L934.6,645.6 L935.3,643.8 L936.0,641.9 L936.8,640.1 L937.5,638.2 L938.2,636.4 L938.8,634.5 L939.5,632.6 L940.2,630.8 L940.9,628.9 L941.6,627.0 L942.2,625.2 L942.9,623.3 L943.6,621.4 L944.2,619.5 L944.9,617.7 L945.6,615.8 L946.2,613.9 L946.9,612.0 L947.5,610.1 L948.2,608.2 L948.8,606.4 L949.5,604.5 L950.1,602.6 L950.7,600.7 L951.4,598.8 L952.0,596.9 L952.6,595.0 L953.3,593.1 L953.9,591.2 L954.5,589.3 L955.1,587.4 L955.7,585.5 L956.4,583.6 L957.0,581.7 L957.6,579.8 L958.2,577.9 L958.8,576.0 L959.4,574.1 L960.0,572.2 L960.6,570.3 L961.2,568.4 L961.8,566.4 L962.4,564.5 L963.0,562.6 L963.6,560.7 L964.2,558.8 L964.8,556.9 L965.4,555.0 L966.0,553.1 L966.5,551.1 L967.1,549.2 L967.7,547.3 L968.3,545.4 L968.9,543.5 L969.4,541.5 L970.0,539.6 L970.6,537.7 L971.2,535.8 L971.7,533.9 L972.3,531.9 L972.9,530.0 L973.5,528.1 L974.0,526.2 L974.6,524.3 L975.2,522.3 L975.7,520.4 L976.3,518.5 L976.9,516.6 L977.4,514.7 L978.0,512.7 L978.6,510.8 L979.1,508.9 L979.7,507.0 L980.3,505.1 L980.8,503.1 L981.4,501.2 L982.0,499.3 L982.5,497.4 L983.1,495.4 L983.7,493.5 L984.3,491.6 L984.8,489.7 L985.4,487.8 L986.0,485.9 L986.5,483.9 L987.1,482.0 L987.7,480.1 L988.3,478.2 L988.8,476.3 L989.4,474.4 L990.0,472.4 L990.6,470.5 L991.2,468.6 L991.7,466.7 L992.3,464.8 L992.9,462.9 L993.5,461.0 L994.1,459.1 L994.7,457.2 L995.3,455.3 L995.9,453.4 L996.5,451.5 L997.1,449.6 L997.7,447.6 L998.3,445.7 L998.9,443.8 L999.5,442.0 L1000.1,440.1 L1000.7,438.2 L1001.3,436.3 L1001.9,434.4 L1002.6,432.5 L1003.2,430.6 L1003.8,428.7 L1004.5,426.8 L1005.1,424.9 L1005.7,423.0 L1006.4,421.2 L1007.0,419.3 L1007.7,417.4 L1008.3,415.5 L1009.0,413.6 L1009.6,411.8 L1010.3,409.9 L1011.0,408.0 L1011.6,406.1 L1012.3,404.3 L1013.0,402.4 L1013.7,400.5 L1014.4,398.7 L1015.0,396.8 L1015.7,395.0 L1016.4,393.1 L1017.1,391.3 L1017.8,389.4 L1018.6,387.6 L1019.3,385.7 L1020.0,383.9 L1020.7,382.0 L1021.5,380.2 L1022.2,378.3 L1022.9,376.5 L1023.7,374.7 L1024.5,372.8 L1025.2,371.0 L1026.0,369.2 L1026.8,367.3 L1027.5,365.5 L1028.3,363.7 L1029.1,361.9 L1029.9,360.1 L1030.7,358.2 L1031.5,356.4 L1032.3,354.6 L1033.2,352.8 L1034.0,351.0 L1034.8,349.2 L1035.7,347.4 L1036.5,345.6 L1037.4,343.8 L1038.3,342.0 L1039.2,340.3 L1040.0,338.5 L1040.9,336.7 L1041.8,334.9 L1042.8,333.1 L1043.7,331.4 L1044.6,329.6 L1045.5,327.8 L1046.5,326.1 L1047.4,324.3 L1048.4,322.6 L1049.4,320.8 L1050.4,319.1 L1051.4,317.3 L1052.4,315.6 L1053.4,313.8 L1054.4,312.1 L1055.4,310.4 L1056.4,308.6 L1057.5,306.9 L1058.5,305.2 L1059.6,303.5 L1060.7,301.8 L1061.8,300.0 L1062.8,298.3 L1063.9,296.6 L1065.0,294.9 L1066.1,293.2 L1067.2,291.5 L1068.4,289.9 L1069.5,288.2 L1070.6,286.5 L1071.8,284.8 L1072.9,283.1 L1074.1,281.5 L1075.2,279.8 L1076.4,278.1 L1077.5,276.5 L1078.7,274.8 L1079.9,273.2 L1081.1,271.5 L1082.3,269.9 L1083.4,268.2 L1084.6,266.6 L1085.8,265.0 L1087.0,263.4 L1088.2,261.7 L1089.5,260.1 L1090.7,258.5 L1091.9,256.9 L1093.1,255.3 L1094.3,253.7 L1095.5,252.1 L1096.8,250.5 L1098.0,248.9 L1099.3,247.4 L1100.5,245.8 L1101.8,244.2 L1103.0,242.7 L1104.3,241.2 L1105.6,239.6 L1106.9,238.1 L1108.2,236.6 L1109.5,235.1 L1110.8,233.6 L1112.1,232.2 L1113.5,230.7 L1114.8,229.3 L1116.2,227.9 L1117.6,226.5 L1119.0,225.1 L1120.4,223.7 L1121.8,222.4 L1123.3,221.1 L1124.7,219.8 L1126.2,218.5 L1127.7,217.2 L1129.2,216.0 L1130.8,214.8 L1132.3,213.6 L1133.9,212.4 L1135.5,211.3 L1137.2,210.1 L1138.8,209.0 L1140.5,208.0 L1142.2,206.9 L1143.9,205.9 L1145.6,205.0 L1147.4,204.1 L1149.2,203.2 L1151.0,202.4 L1152.8,201.8 L1154.6,201.2 L1156.5,200.8 L1158.3,200.5 L1160.2,200.4 L1162.1,200.4 L1164.0,200.6 L1165.8,201.0 L1167.7,201.4 L1169.6,202.0 L1171.5,202.7 L1173.3,203.5 L1175.2,204.3 L1177.0,205.3 L1178.9,206.2 L1180.7,207.3 L1182.5,208.3 L1184.3,209.4 L1186.1,210.4 L1187.9,211.5 L1189.6,212.6 L1191.3,213.7 L1193.0,214.9 L1194.7,216.0 L1196.4,217.2 L1198.1,218.3 L1199.8,219.5 L1201.4,220.7 L1203.0,221.9 L1204.6,223.1 L1206.2,224.3 L1207.8,225.6 L1209.4,226.8 L1211.0,228.1 L1212.5,229.3 L1214.1,230.6 L1215.6,231.9 L1217.1,233.2 L1218.6,234.5 L1220.1,235.8 L1221.6,237.2 L1223.1,238.5 L1224.6,239.9 L1226.0,241.2 L1227.5,242.6 L1228.9,243.9 L1230.3,245.3 L1231.8,246.7 L1233.2,248.1 L1234.6,249.5 L1236.0,250.9 L1237.4,252.3 L1238.8,253.8 L1240.2,255.2 L1241.6,256.6 L1242.9,258.1 L1244.3,259.5 L1245.7,261.0 L1247.0,262.4 L1248.4,263.9 L1249.8,265.4 L1251.1,266.8 L1252.5,268.3 L1253.8,269.8 L1255.2,271.3 L1256.5,272.7 L1257.8,274.2 L1259.2,275.7 L1260.5,277.2 L1261.8,278.7 L1263.2,280.2 L1264.5,281.7 L1265.8,283.1 L1267.2,284.6 L1268.5,286.1 L1269.9,287.6 L1271.2,289.1 L1272.5,290.6 L1273.9,292.1 L1275.2,293.5 L1276.6,295.0 L1277.9,296.5 L1279.3,297.9 L1280.6,299.4 L1282.0,300.9 L1283.3,302.3 L1284.7,303.8 L1286.1,305.2 L1287.4,306.7 L1288.8,308.1 L1290.2,309.6 L1291.6,311.0 L1293.0,312.5 L1294.3,313.9 L1295.7,315.3 L1297.1,316.8 L1298.5,318.2 L1299.9,319.6 L1301.3,321.0 L1302.7,322.5 L1304.1,323.9 L1305.5,325.3 L1306.9,326.7 L1308.3,328.1 L1309.7,329.5 L1311.1,330.9 L1312.6,332.3 L1314.0,333.7 L1315.4,335.1 L1316.8,336.5 L1318.2,337.9 L1319.7,339.3 L1321.1,340.7 L1322.5,342.1 L1323.9,343.5 L1325.4,344.9 L1326.8,346.3 L1328.2,347.7 L1329.7,349.1 L1331.1,350.5 L1332.5,351.8 L1334.0,353.2 L1335.4,354.6 L1336.8,356.0 L1338.3,357.4 L1339.7,358.7 L1341.2,360.1 L1342.6,361.5 L1344.0,362.9 L1345.5,364.3 L1346.9,365.6 L1348.4,367.0 L1349.8,368.4 L1351.3,369.8 L1352.7,371.1 L1354.1,372.5 L1355.6,373.9 L1357.0,375.3 L1358.5,376.6 L1359.9,378.0 L1361.4,379.4 L1362.8,380.8 L1364.3,382.1 L1365.7,383.5 L1367.2,384.9 L1368.6,386.3 L1370.1,387.6 L1371.5,389.0 L1373.0,390.4 L1374.4,391.8 L1375.8,393.2 L1377.3,394.5 L1378.7,395.9 L1380.2,397.3 L1381.6,398.7 L1383.1,400.1 L1384.5,401.5 L1386.0,402.8 L1387.4,404.2 L1388.8,405.6 L1390.3,407.0 L1391.7,408.4 L1393.2,409.8 L1394.6,411.2 L1396.0,412.6 L1397.5,414.0 L1398.9,415.4 L1400.4,416.8 L1401.8,418.2 L1403.2,419.6 L1404.7,421.0 L1406.1,422.4 L1407.5,423.8 L1409.0,425.2 L1410.4,426.7 L1411.8,428.1 L1413.2,429.5 L1414.7,430.9 L1416.1,432.3 L1417.5,433.8 L1418.9,435.2 L1420.4,436.6 L1421.8,438.1 L1423.2,439.5 L1424.6,440.9 L1426.0,442.4 L1427.4,443.8 L1428.8,445.3 L1430.2,446.7 L1431.7,448.2 L1433.1,449.7 L1434.5,451.1 L1435.9,452.6 L1437.3,454.1 L1438.7,455.5 L1440.1,457.0 L1441.5,458.5 L1442.9,459.9 L1444.3,461.4 L1445.7,462.8 L1447.1,464.2 L1448.6,465.7 L1450.0,467.1 L1451.4,468.5 L1452.9,469.9 L1454.3,471.3 L1455.8,472.6 L1457.2,474.0 L1458.7,475.3 L1460.2,476.6 L1461.7,477.9 L1463.2,479.2 L1464.8,480.4 L1466.3,481.6 L1467.9,482.8 L1469.4,484.0 L1471.0,485.1 L1472.6,486.2 L1474.3,487.3 L1475.9,488.3 L1477.6,489.3 L1479.2,490.3 L1480.9,491.2 L1482.7,492.1 L1484.4,492.9 L1486.2,493.8 L1487.9,494.5 L1489.7,495.3 L1491.6,496.0 L1493.4,496.7 L1495.2,497.4 L1497.1,498.0 L1499.0,498.7 L1500.9,499.3 L1502.8,499.9 L1504.7,500.5 L1506.6,501.0 L1508.5,501.6 L1510.5,502.1 L1512.4,502.7 L1514.4,503.2 L1516.3,503.8 L1518.3,504.3 L1520.2,504.9 L1522.2,505.4 L1524.1,506.0 L1526.1,506.6 L1528.0,507.1 L1530.0,507.7 L1532.0,508.4 L1533.9,509.0 L1535.9,509.6 L1537.8,510.2 L1539.7,510.9 L1541.7,511.6 L1543.6,512.3 L1545.5,513.0 L1547.4,513.7 L1549.3,514.4 L1551.2,515.1 L1553.1,515.9 L1555.0,516.7 L1556.9,517.5 L1558.7,518.3 L1560.6,519.1 L1562.4,519.9 L1564.3,520.8 L1566.1,521.6 L1567.9,522.5 L1569.7,523.4 L1571.5,524.4 L1573.2,525.3 L1575.0,526.3 L1576.7,527.2 L1578.5,528.2 L1580.2,529.3 L1581.9,530.3 L1583.5,531.3 L1585.2,532.4 L1586.8,533.5 L1588.4,534.6 L1590.0,535.8 L1591.6,536.9 L1593.2,538.1 L1594.7,539.3 L1596.2,540.6 L1597.7,541.8 L1599.2,543.1 L1600.6,544.4 L1602.0,545.7 L1603.4,547.1 L1604.8,548.4 L1606.2,549.8 L1607.5,551.2 L1608.8,552.7 L1610.1,554.1 L1611.3,555.6 L1612.5,557.1 L1613.8,558.7 L1614.9,560.2 L1616.1,561.8 L1617.2,563.4 L1618.4,565.0 L1619.5,566.6 L1620.5,568.3 L1621.6,569.9 L1622.6,571.6 L1623.7,573.3 L1624.7,575.0 L1625.7,576.8 L1626.6,578.5 L1627.6,580.3 L1628.5,582.0 L1629.4,583.8 L1630.4,585.6 L1631.2,587.4 L1632.1,589.2 L1633.0,591.1 L1633.8,592.9 L1634.7,594.7 L1635.5,596.6 L1636.3,598.5 L1637.1,600.3 L1637.9,602.2 L1638.7,604.1 L1639.5,606.0 L1640.3,607.9 L1641.0,609.8 L1641.8,611.7 L1642.5,613.6 L1643.2,615.5 L1644.0,617.4 L1644.7,619.3 L1645.4,621.2 L1646.1,623.2 L1646.8,625.1 L1647.5,627.0 L1648.2,628.9 L1648.9,630.8 L1649.6,632.7 L1650.3,634.6 L1651.0,636.5 L1651.6,638.4 L1652.3,640.4 L1653.0,642.3 L1653.6,644.2 L1654.3,646.1 L1655.0,648.0 L1655.6,649.9 L1656.3,651.8 L1656.9,653.7 L1657.6,655.6 L1658.2,657.5 L1658.8,659.4 L1659.5,661.3 L1660.1,663.2 L1660.7,665.1 L1661.4,667.0 L1662.0,668.9 L1662.6,670.7 L1663.2,672.6 L1663.9,674.5 L1664.5,676.4 L1665.1,678.3 L1665.7,680.2 L1666.3,682.1 L1666.9,684.0 L1667.5,685.9 L1668.1,687.8 L1668.7,689.7 L1669.3,691.6 L1669.9,693.5 L1670.5,695.4 L1671.1,697.2 L1671.7,699.1 L1672.2,701.0 L1672.8,702.9 L1673.4,704.8 L1674.0,706.7 L1674.6,708.6 L1675.2,710.5 L1675.7,712.4 L1676.3,714.3 L1676.9,716.2 L1677.5,718.1 L1678.0,720.0 L1678.6,721.9 L1679.2,723.8 L1679.7,725.6 L1680.3,727.5 L1680.9,729.4 L1681.4,731.3 L1682.0,733.2 L1682.6,735.1 L1683.1,737.0 L1683.7,738.9 L1684.2,740.8 L1684.8,742.7 L1685.4,744.6 L1685.9,746.5 L1686.5,748.4 L1687.0,750.4 L1687.6,752.3 L1688.2,754.2 L1688.7,756.1 L1689.3,758.0 L1689.8,759.9 L1690.4,761.8 L1690.9,763.7 L1691.5,765.6 L1692.1,767.5 L1692.6,769.5 L1693.2,771.4 L1693.7,773.3 L1694.3,775.2 L1694.8,777.1 L1695.4,779.0 L1696.0,781.0 L1696.5,782.9 L1697.1,784.8 L1697.7,786.7 L1698.2,788.7 L1698.8,790.6 L1699.4,792.5 L1699.9,794.4 L1700.5,796.3 L1701.1,798.3 L1701.6,800.2 L1702.2,802.1 L1702.8,804.0 L1703.4,806.0 L1703.9,807.9 L1704.5,809.8 L1705.1,811.7 L1705.7,813.7 L1706.3,815.6 L1706.9,817.5 L1707.5,819.4 L1708.0,821.4 L1708.6,823.3 L1709.2,825.2 L1709.8,827.1 L1710.4,829.0 L1711.0,831.0 L1711.7,832.9 L1712.3,834.8 L1712.9,836.7 L1713.5,838.6 L1714.1,840.5 L1714.7,842.5 L1715.4,844.4 L1716.0,846.3 L1716.6,848.2 L1717.3,850.1 L1717.9,852.0 L1718.5,853.9 L1719.2,855.8 L1719.8,857.7 L1720.5,859.6 L1721.1,861.5 L1721.8,863.4 L1722.5,865.3 L1723.1,867.2 L1723.8,869.1 L1724.5,871.0 L1725.2,872.9 L1725.9,874.8 L1726.5,876.7 L1727.2,878.5 L1727.9,880.4 L1728.6,882.3 L1729.3,884.2 L1730.1,886.0 L1730.8,887.9 L1731.5,889.8 L1732.2,891.6 L1733.0,893.5 L1733.7,895.4 L1734.4,897.2 L1735.2,899.1 L1735.9,900.9 L1736.7,902.8 L1737.5,904.6 L1738.2,906.5 L1739.0,908.3 L1739.8,910.2 L1740.6,912.0 L1741.4,913.8 L1742.2,915.6 L1743.0,917.5 L1743.8,919.3 L1744.6,921.1 L1745.4,922.9 L1746.3,924.7 L1747.1,926.5 L1747.9,928.3 L1748.8,930.1 L1749.6,931.9 L1750.5,933.7 L1751.4,935.5 L1752.2,937.3 L1753.1,939.1 L1754.0,940.9 L1754.9,942.6 L1755.8,944.4 L1756.7,946.2 L1757.6,947.9 L1758.6,949.7 L1759.5,951.4 L1760.4,953.2 L1761.4,954.9 L1762.3,956.7 L1763.3,958.4 L1764.3,960.1 L1765.3,961.8 L1766.2,963.6 L1767.2,965.3 L1768.2,967.0 L1769.3,968.7 L1770.3,970.4 L1771.3,972.1 L1772.3,973.8 L1773.4,975.5 L1774.4,977.1 L1775.5,978.8 L1776.6,980.5 L1777.6,982.1 L1778.7,983.8 L1779.8,985.4 L1780.9,987.1 L1782.0,988.7 L1783.2,990.4 L1784.3,992.0 L1785.4,993.6 L1786.6,995.2 L1787.8,996.9 L1788.9,998.5 L1790.1,1000.1 L1791.3,1001.7 L1792.5,1003.2 L1793.7,1004.8 L1794.9,1006.4 L1796.1,1008.0 L1797.4,1009.6 L1798.6,1011.1 L1799.9,1012.7 L1801.1,1014.3 L1802.4,1015.8 L1803.6,1017.4 L1804.9,1018.9 L1806.2,1020.5 L1807.5,1022.0 L1808.8,1023.6 L1810.1,1025.1 L1811.4,1026.7 L1812.7,1028.2 L1814.0,1029.8 L1815.4,1031.3 L1816.7,1032.9 L1818.1,1034.4 L1819.4,1036.0 L1820.8,1037.5 L1822.1,1039.1 L1823.5,1040.6 L1824.8,1042.2 L1826.2,1043.7 L1827.6,1045.3 L1829.0,1046.8 L1830.4,1048.4 L1831.8,1049.9 L1833.2,1051.5 L1834.6,1053.0 L1836.0,1054.5 L1837.4,1055.9 L1838.9,1057.4 L1840.4,1058.8 L1841.8,1060.1 L1843.3,1061.4 L1844.9,1062.7 L1846.4,1063.9 L1848.0,1065.1 L1849.5,1066.2 L1851.2,1067.2 L1852.8,1068.2 L1854.4,1069.0 L1856.1,1069.8 L1857.9,1070.6 L1859.6,1071.2 L1861.4,1071.7 L1863.2,1072.2 L1865.0,1072.5 L1866.9,1072.8 L1868.8,1072.9 L1870.7,1073.0 L1872.7,1073.0 L1874.6,1072.8 L1876.6,1072.6 L1878.6,1072.3 L1880.6,1072.0 L1882.5,1071.5 L1884.5,1071.0 L1886.5,1070.4 L1888.4,1069.7 L1890.4,1069.0 L1892.3,1068.2 L1894.2,1067.4 L1896.1,1066.5 L1898.0,1065.5 L1899.8,1064.5 L1901.6,1063.4 L1903.3,1062.3 L1905.0,1061.1 L1906.7,1059.9 L1908.3,1058.7 L1909.8,1057.4 L1911.3,1056.0 L1912.7,1054.7 L1914.1,1053.3 L1915.3,1051.9 L1915.9,1051.2" stroke="#0000ff" stroke-dasharray="21.5 6.4"/>
<path d="M244.1,725.6 L244.5,727.5 L245.0,729.4 L245.5,731.3 L246.1,733.3 L246.6,735.2 L247.1,737.1 L247.7,739.0 L248.3,740.9 L248.8,742.8 L249.4,744.7 L250.0,746.6 L250.6,748.5 L251.2,750.4 L251.9,752.3 L252.5,754.2 L253.1,756.1 L253.8,758.0 L254.5,759.8 L255.1,761.7 L255.8,763.6 L256.5,765.5 L257.2,767.4 L257.9,769.3 L258.6,771.1 L259.3,773.0 L260.0,774.9 L260.7,776.8 L261.4,778.6 L262.2,780.5 L262.9,782.4 L263.6,784.2 L264.4,786.1 L265.1,788.0 L265.9,789.8 L266.6,791.7 L267.4,793.6 L268.1,795.4 L268.9,797.3 L269.6,799.1 L270.4,801.0 L271.2,802.8 L271.9,804.7 L272.7,806.5 L273.5,808.4 L274.2,810.2 L275.0,812.1 L275.8,813.9 L276.5,815.8 L277.3,817.6 L278.1,819.4 L278.8,821.3 L279.6,823.1 L280.4,824.9 L281.2,826.8 L282.0,828.6 L282.7,830.4 L283.5,832.3 L284.3,834.1 L285.1,835.9 L285.9,837.7 L286.7,839.5 L287.5,841.4 L288.3,843.2 L289.1,845.0 L289.9,846.8 L290.7,848.6 L291.5,850.4 L292.4,852.2 L293.2,854.1 L294.0,855.9 L294.8,857.7 L295.7,859.5 L296.5,861.3 L297.4,863.1 L298.2,864.9 L299.1,866.7 L299.9,868.5 L300.8,870.3 L301.7,872.1 L302.5,873.8 L303.4,875.6 L304.3,877.4 L305.2,879.2 L306.1,881.0 L307.0,882.8 L307.9,884.6 L308.8,886.3 L309.7,888.1 L310.7,889.9 L311.6,891.7 L312.5,893.5 L313.5,895.2 L314.4,897.0 L315.4,898.8 L316.4,900.5 L317.3,902.3 L318.3,904.1 L319.3,905.8 L320.3,907.6 L321.3,909.3 L322.3,911.1 L323.3,912.8 L324.3,914.6 L325.3,916.3 L326.3,918.1 L327.4,919.8 L328.4,921.5 L329.4,923.3 L330.4,925.0 L331.5,926.7 L332.5,928.5 L333.6,930.2 L334.6,931.9 L335.7,933.6 L336.8,935.3 L337.8,937.0 L338.9,938.7 L340.0,940.4 L341.0,942.1 L342.1,943.8 L343.2,945.5 L344.3,947.2 L345.4,948.8 L346.5,950.5 L347.6,952.2 L348.7,953.8 L349.8,955.5 L350.9,957.1 L352.0,958.8 L353.1,960.4 L354.2,962.1 L355.3,963.7 L356.5,965.3 L357.6,967.0 L358.7,968.6 L359.8,970.2 L360.9,971.8 L362.1,973.4 L363.2,975.0 L364.3,976.6 L365.5,978.2 L366.6,979.7 L367.7,981.3 L368.9,982.9 L370.0,984.4 L371.2,986.0 L372.3,987.6 L373.5,989.1 L374.6,990.7 L375.8,992.2 L376.9,993.8 L378.1,995.3 L379.3,996.8 L380.4,998.4 L381.6,999.9 L382.8,1001.5 L384.0,1003.0 L385.2,1004.6 L386.4,1006.1 L387.6,1007.7 L388.9,1009.2 L390.1,1010.8 L391.3,1012.4 L392.6,1013.9 L393.8,1015.5 L395.1,1017.1 L396.4,1018.7 L397.6,1020.2 L398.9,1021.8 L400.2,1023.4 L401.6,1025.1 L402.9,1026.7 L404.2,1028.3 L405.6,1029.9 L406.9,1031.5 L408.3,1033.1 L409.7,1034.7 L411.1,1036.3 L412.5,1037.8 L413.9,1039.4 L415.4,1040.9 L416.8,1042.4 L418.3,1043.9 L419.8,1045.4 L421.3,1046.9 L422.8,1048.3 L424.3,1049.7 L425.9,1051.1 L427.4,1052.4 L429.0,1053.7 L430.6,1055.0 L432.2,1056.2 L433.9,1057.4 L435.5,1058.5 L437.2,1059.6 L438.9,1060.7 L440.6,1061.7 L442.3,1062.6 L444.1,1063.6 L445.8,1064.4 L447.6,1065.3 L449.4,1066.0 L451.2,1066.8 L453.0,1067.5 L454.8,1068.1 L456.6,1068.7 L458.5,1069.3 L460.3,1069.8 L462.2,1070.3 L464.1,1070.7 L466.0,1071.1 L467.9,1071.5 L469.8,1071.8 L471.7,1072.1 L473.6,1072.3 L475.5,1072.5 L477.4,1072.6 L479.4,1072.7 L481.3,1072.8 L483.2,1072.8 L485.2,1072.8 L487.1,1072.7 L489.0,1072.6 L491.0,1072.5 L492.9,1072.3 L494.9,1072.1 L496.8,1071.8 L498.7,1071.5 L500.7,1071.2 L502.6,1070.8 L504.5,1070.4 L506.4,1069.9 L508.3,1069.5 L510.2,1068.9 L512.1,1068.4 L514.0,1067.8 L515.9,1067.1 L517.8,1066.4 L519.6,1065.7 L521.4,1065.0 L523.3,1064.2 L525.1,1063.4 L526.9,1062.5 L528.7,1061.6 L530.4,1060.7 L532.2,1059.7 L533.9,1058.7 L535.7,1057.7 L537.4,1056.7 L539.1,1055.6 L540.8,1054.5 L542.5,1053.4 L544.2,1052.2 L545.8,1051.0 L547.5,1049.8 L549.1,1048.6 L550.7,1047.4 L552.4,1046.1 L554.0,1044.8 L555.6,1043.5 L557.1,1042.2 L558.7,1040.9 L560.3,1039.6 L561.8,1038.2 L563.4,1036.9 L564.9,1035.5 L566.4,1034.1 L568.0,1032.7 L569.5,1031.3 L571.0,1029.9 L572.4,1028.5 L573.9,1027.0 L575.4,1025.6 L576.9,1024.2 L578.3,1022.8 L579.8,1021.3 L581.2,1019.9 L582.6,1018.5 L584.0,1017.0 L585.5,1015.6 L586.9,1014.2 L588.3,1012.8 L589.7,1011.3 L591.1,1009.9 L592.4,1008.5 L593.8,1007.1 L595.2,1005.7 L596.6,1004.2 L597.9,1002.8 L599.3,1001.4 L600.7,1000.0 L602.0,998.6 L603.4,997.2 L604.7,995.7 L606.1,994.3 L607.4,992.9 L608.8,991.5 L610.1,990.1 L611.5,988.7 L612.8,987.3 L614.2,985.9 L615.5,984.5 L616.9,983.1 L618.2,981.7 L619.6,980.3 L621.0,978.9 L622.3,977.5 L623.7,976.1 L625.0,974.7 L626.4,973.3 L627.8,971.9 L629.2,970.5 L630.5,969.1 L631.9,967.7 L633.3,966.4 L634.7,965.0 L636.1,963.6 L637.5,962.2 L638.9,960.8 L640.4,959.5 L641.8,958.1 L643.2,956.7 L644.7,955.3 L646.1,954.0 L647.6,952.6 L649.1,951.2 L650.5,949.9 L652.0,948.5 L653.5,947.2 L655.0,945.8 L656.5,944.5 L658.0,943.1 L659.5,941.8 L661.1,940.4 L662.6,939.1 L664.1,937.7 L665.6,936.4 L667.2,935.0 L668.7,933.7 L670.3,932.4 L671.8,931.0 L673.4,929.7 L674.9,928.4 L676.5,927.1 L678.0,925.7 L679.6,924.4 L681.1,923.1 L682.7,921.8 L684.3,920.5 L685.8,919.2 L687.4,917.9 L689.0,916.6 L690.5,915.3 L692.1,914.0 L693.7,912.7 L695.2,911.4 L696.8,910.1 L698.3,908.8 L699.9,907.5 L701.5,906.2 L703.0,905.0 L704.6,903.7 L706.1,902.4 L707.7,901.1 L709.2,899.9 L710.8,898.6 L712.3,897.3 L713.9,896.1 L715.4,894.8 L716.9,893.6 L718.4,892.3 L720.0,891.1 L721.5,889.8 L723.0,888.6 L724.5,887.3 L726.0,886.1 L727.5,884.9 L729.0,883.6 L730.5,882.4 L731.9,881.1 L733.4,879.8 L734.9,878.6 L736.4,877.3 L737.8,876.1 L739.3,874.8 L740.7,873.5 L742.2,872.2 L743.6,870.9 L745.1,869.6 L746.5,868.3 L747.9,867.0 L749.4,865.7 L750.8,864.3 L752.2,863.0 L753.6,861.6 L755.0,860.3 L756.4,858.9 L757.8,857.5 L759.2,856.1 L760.6,854.6 L761.9,853.2 L763.3,851.8 L764.7,850.3 L766.0,848.8 L767.4,847.3 L768.7,845.8 L770.1,844.3 L771.4,842.7 L772.8,841.2 L774.1,839.6 L775.4,838.0 L776.8,836.5 L778.1,834.9 L779.4,833.3 L780.7,831.7 L782.1,830.1 L783.4,828.5 L784.8,826.9 L786.1,825.4 L787.5,823.8 L788.8,822.2 L790.2,820.7 L791.6,819.1 L792.9,817.6 L794.3,816.1 L795.7,814.6 L797.1,813.1 L798.6,811.7 L800.0,810.2 L801.4,808.8 L802.9,807.4 L804.4,806.1 L805.9,804.7 L807.4,803.4 L808.9,802.1 L810.4,800.9 L812.0,799.7 L813.6,798.5 L815.2,797.4 L816.8,796.3 L818.4,795.3 L820.1,794.3 L821.8,793.3 L823.5,792.4 L825.2,791.5 L826.9,790.7 L828.7,789.9 L830.5,789.2 L832.3,788.5 L834.1,787.9 L835.9,787.3 L837.8,786.8 L839.7,786.3 L841.6,785.9 L843.5,785.5 L845.4,785.2 L847.3,785.0 L849.2,784.8 L851.2,784.6 L853.2,784.5 L855.1,784.5 L857.1,784.5 L859.1,784.5 L861.1,784.6 L863.1,784.7 L865.1,784.9 L867.1,785.1 L869.2,785.3 L871.2,785.5 L873.2,785.7 L875.3,786.0 L877.3,786.3 L879.4,786.5 L881.4,786.8 L883.5,787.0 L885.5,787.3 L887.6,787.5 L889.6,787.7 L891.7,788.0 L893.7,788.2 L895.7,788.3 L897.8,788.5 L899.8,788.7 L901.8,788.8 L903.8,788.9 L905.9,789.0 L907.9,789.1 L909.8,789.1 L911.8,789.1 L913.8,789.1 L915.8,789.0 L917.7,788.9 L919.6,788.8 L921.5,788.6 L923.4,788.3 L925.3,788.0 L927.2,787.6 L929.0,787.0 L930.9,786.4 L932.7,785.7 L934.5,785.0 L936.2,784.1 L938.0,783.2 L939.7,782.2 L941.4,781.1 L943.1,780.0 L944.8,778.9 L946.5,777.7 L948.1,776.5 L949.7,775.2 L951.3,773.9 L952.9,772.6 L954.4,771.3 L956.0,769.9 L957.5,768.6 L959.0,767.2 L960.4,765.8 L961.9,764.4 L963.3,763.0 L964.7,761.6 L966.1,760.2 L967.5,758.7 L968.8,757.3 L970.2,755.8 L971.5,754.3 L972.8,752.9 L974.1,751.4 L975.3,749.9 L976.6,748.3 L977.8,746.8 L979.1,745.3 L980.3,743.7 L981.5,742.2 L982.7,740.6 L983.8,739.0 L985.0,737.4 L986.1,735.8 L987.3,734.2 L988.4,732.6 L989.5,731.0 L990.6,729.3 L991.7,727.7 L992.7,726.0 L993.8,724.4 L994.9,722.7 L995.9,721.0 L996.9,719.3 L998.0,717.7 L999.0,716.0 L1000.0,714.2 L1001.0,712.5 L1002.0,710.8 L1003.0,709.1 L1004.0,707.3 L1004.9,705.6 L1005.9,703.8 L1006.9,702.1 L1007.8,700.3 L1008.7,698.6 L1009.7,696.8 L1010.6,695.0 L1011.5,693.2 L1012.4,691.4 L1013.3,689.6 L1014.2,687.8 L1015.1,686.0 L1016.0,684.2 L1016.8,682.4 L1017.7,680.6 L1018.6,678.7 L1019.4,676.9 L1020.2,675.1 L1021.1,673.2 L1021.9,671.4 L1022.7,669.6 L1023.5,667.7 L1024.3,665.8 L1025.1,664.0 L1025.9,662.1 L1026.7,660.3 L1027.4,658.4 L1028.2,656.5 L1029.0,654.7 L1029.7,652.8 L1030.5,650.9 L1031.2,649.0 L1031.9,647.2 L1032.6,645.3 L1033.4,643.4 L1034.1,641.5 L1034.8,639.6 L1035.5,637.7 L1036.1,635.8 L1036.8,634.0 L1037.5,632.1 L1038.2,630.2 L1038.8,628.3 L1039.5,626.4 L1040.1,624.5 L1040.8,622.6 L1041.4,620.7 L1042.1,618.8 L1042.7,616.9 L1043.3,615.0 L1043.9,613.1 L1044.5,611.2 L1045.2,609.3 L1045.8,607.4 L1046.4,605.5 L1047.0,603.6 L1047.5,601.7 L1048.1,599.8 L1048.7,597.9 L1049.3,596.0 L1049.9,594.1 L1050.4,592.1 L1051.0,590.2 L1051.6,588.3 L1052.1,586.4 L1052.7,584.5 L1053.2,582.6 L1053.8,580.7 L1054.3,578.8 L1054.9,576.9 L1055.4,574.9 L1056.0,573.0 L1056.5,571.1 L1057.1,569.2 L1057.6,567.3 L1058.1,565.4 L1058.7,563.4 L1059.2,561.5 L1059.7,559.6 L1060.3,557.7 L1060.8,555.8 L1061.3,553.9 L1061.8,551.9 L1062.4,550.0 L1062.9,548.1 L1063.4,546.2 L1063.9,544.3 L1064.5,542.4 L1065.0,540.4 L1065.5,538.5 L1066.0,536.6 L1066.6,534.7 L1067.1,532.8 L1067.6,530.8 L1068.1,528.9 L1068.7,527.0 L1069.2,525.1 L1069.7,523.2 L1070.2,521.3 L1070.8,519.3 L1071.3,517.4 L1071.8,515.5 L1072.4,513.6 L1072.9,511.7 L1073.5,509.8 L1074.0,507.8 L1074.6,505.9 L1075.1,504.0 L1075.7,502.1 L1076.2,500.2 L1076.8,498.3 L1077.3,496.3 L1077.9,494.4 L1078.5,492.5 L1079.0,490.6 L1079.6,488.7 L1080.2,486.8 L1080.8,484.9 L1081.3,483.0 L1081.9,481.1 L1082.5,479.1 L1083.1,477.2 L1083.7,475.3 L1084.3,473.4 L1084.9,471.5 L1085.5,469.6 L1086.2,467.7 L1086.8,465.8 L1087.4,463.9 L1088.1,462.0 L1088.7,460.1 L1089.3,458.2 L1090.0,456.3 L1090.6,454.4 L1091.3,452.5 L1092.0,450.6 L1092.6,448.7 L1093.3,446.8 L1094.0,444.9 L1094.7,443.0 L1095.3,441.1 L1096.0,439.2 L1096.7,437.3 L1097.4,435.5 L1098.1,433.6 L1098.8,431.7 L1099.5,429.8 L1100.2,427.9 L1100.9,426.0 L1101.6,424.1 L1102.3,422.3 L1103.1,420.4 L1103.8,418.5 L1104.5,416.6 L1105.2,414.7 L1105.9,412.9 L1106.6,411.0 L1107.4,409.1 L1108.1,407.2 L1108.8,405.4 L1109.5,403.5 L1110.3,401.6 L1111.0,399.8 L1111.7,397.9 L1112.4,396.0 L1113.2,394.2 L1113.9,392.3 L1114.6,390.4 L1115.3,388.6 L1116.0,386.7 L1116.8,384.9 L1117.5,383.0 L1118.2,381.2 L1119.0,379.3 L1119.7,377.5 L1120.4,375.6 L1121.1,373.8 L1121.9,371.9 L1122.6,370.1 L1123.4,368.2 L1124.1,366.4 L1124.9,364.5 L1125.6,362.7 L1126.4,360.9 L1127.1,359.0 L1127.9,357.2 L1128.6,355.4 L1129.4,353.5 L1130.2,351.7 L1131.0,349.9 L1131.8,348.1 L1132.5,346.2 L1133.3,344.4 L1134.1,342.6 L1134.9,340.8 L1135.8,339.0 L1136.6,337.1 L1137.4,335.3 L1138.2,333.5 L1139.1,331.7 L1139.9,329.9 L1140.8,328.1 L1141.7,326.3 L1142.5,324.5 L1143.4,322.7 L1144.3,320.9 L1145.2,319.1 L1146.1,317.3 L1147.0,315.6 L1147.9,313.8 L1148.8,312.0 L1149.8,310.2 L1150.7,308.5 L1151.7,306.7 L1152.6,305.0 L1153.6,303.2 L1154.6,301.5 L1155.5,299.7 L1156.5,298.0 L1157.5,296.3 L1158.6,294.6 L1159.6,292.8 L1160.6,291.1 L1161.7,289.4 L1162.7,287.7 L1163.8,286.0 L1164.9,284.4 L1165.9,282.7 L1167.0,281.0 L1168.1,279.4 L1169.3,277.7 L1170.4,276.1 L1171.5,274.4 L1172.7,272.8 L1173.8,271.2 L1175.0,269.6 L1176.2,267.9 L1177.4,266.3 L1178.6,264.8 L1179.8,263.2 L1181.0,261.6 L1182.3,260.1 L1183.5,258.5 L1184.8,257.0 L1186.1,255.4 L1187.4,253.9 L1188.7,252.4 L1190.0,250.9 L1191.3,249.4 L1192.6,247.9 L1194.0,246.4 L1195.3,245.0 L1196.7,243.5 L1198.1,242.1 L1199.5,240.7 L1200.9,239.3 L1202.3,237.9 L1203.8,236.5 L1205.2,235.1 L1206.7,233.7 L1208.2,232.4 L1209.7,231.0 L1211.2,229.7 L1212.7,228.4 L1214.2,227.1 L1215.8,225.8 L1217.3,224.5 L1218.9,223.3 L1220.5,222.0 L1222.1,220.8 L1223.7,219.6 L1225.3,218.3 L1226.9,217.2 L1228.6,216.0 L1230.3,214.8 L1232.0,213.7 L1233.7,212.5 L1235.4,211.4 L1237.1,210.3 L1238.8,209.2 L1240.6,208.2 L1242.4,207.2 L1244.1,206.2 L1245.9,205.3 L1247.7,204.5 L1249.5,203.6 L1251.3,202.9 L1253.1,202.2 L1255.0,201.7 L1256.8,201.2 L1258.6,200.7 L1260.5,200.4 L1262.3,200.2 L1264.2,200.1 L1266.0,200.1 L1267.9,200.2 L1269.7,200.4 L1271.6,200.7 L1273.4,201.1 L1275.3,201.5 L1277.1,202.0 L1279.0,202.6 L1280.8,203.3 L1282.6,204.0 L1284.5,204.7 L1286.3,205.5 L1288.1,206.4 L1289.9,207.3 L1291.7,208.2 L1293.5,209.1 L1295.2,210.0 L1297.0,211.0 L1298.7,212.0 L1300.5,213.0 L1302.2,214.1 L1303.9,215.1 L1305.6,216.2 L1307.3,217.3 L1309.0,218.4 L1310.7,219.5 L1312.4,220.7 L1314.1,221.8 L1315.7,223.0 L1317.4,224.2 L1319.0,225.4 L1320.6,226.6 L1322.3,227.9 L1323.9,229.1 L1325.5,230.4 L1327.1,231.6 L1328.7,232.9 L1330.3,234.2 L1331.9,235.5 L1333.5,236.8 L1335.1,238.1 L1336.6,239.4 L1338.2,240.7 L1339.8,242.1 L1341.3,243.4 L1342.9,244.7 L1344.4,246.1 L1346.0,247.4 L1347.5,248.8 L1349.0,250.1 L1350.6,251.5 L1352.1,252.8 L1353.6,254.2 L1355.2,255.5 L1356.7,256.9 L1358.2,258.2 L1359.7,259.6 L1361.2,260.9 L1362.7,262.3 L1364.2,263.6 L1365.7,264.9 L1367.2,266.3 L1368.7,267.6 L1370.3,268.9 L1371.7,270.2 L1373.2,271.6 L1374.7,272.9 L1376.2,274.2 L1377.7,275.5 L1379.2,276.8 L1380.7,278.1 L1382.2,279.4 L1383.7,280.7 L1385.2,282.0 L1386.7,283.3 L1388.2,284.6 L1389.7,285.9 L1391.1,287.2 L1392.6,288.5 L1394.1,289.8 L1395.6,291.1 L1397.1,292.3 L1398.6,293.6 L1400.1,294.9 L1401.5,296.2 L1403.0,297.5 L1404.5,298.7 L1406.0,300.0 L1407.5,301.3 L1409.0,302.5 L1410.5,303.8 L1412.0,305.1 L1413.5,306.4 L1415.0,307.6 L1416.5,308.9 L1417.9,310.2 L1419.4,311.4 L1420.9,312.7 L1422.4,314.0 L1423.9,315.2 L1425.4,316.5 L1427.0,317.8 L1428.5,319.0 L1430.0,320.3 L1431.5,321.5 L1433.0,322.8 L1434.5,324.1 L1436.0,325.3 L1437.5,326.6 L1439.1,327.9 L1440.6,329.1 L1442.1,330.4 L1443.7,331.7 L1445.2,332.9 L1446.7,334.2 L1448.3,335.5 L1449.8,336.8 L1451.3,338.0 L1452.9,339.3 L1454.4,340.6 L1456.0,341.9 L1457.5,343.1 L1459.0,344.4 L1460.6,345.7 L1462.1,347.0 L1463.7,348.3 L1465.2,349.5 L1466.8,350.8 L1468.3,352.1 L1469.8,353.4 L1471.4,354.7 L1472.9,356.0 L1474.5,357.3 L1476.0,358.6 L1477.6,359.9 L1479.1,361.2 L1480.6,362.5 L1482.2,363.8 L1483.7,365.1 L1485.3,366.4 L1486.8,367.8 L1488.3,369.1 L1489.8,370.4 L1491.4,371.7 L1492.9,373.1 L1494.4,374.4 L1495.9,375.7 L1497.5,377.1 L1499.0,378.4 L1500.5,379.8 L1502.0,381.1 L1503.5,382.5 L1505.0,383.8 L1506.5,385.2 L1508.0,386.6 L1509.5,387.9 L1511.0,389.3 L1512.4,390.7 L1513.9,392.1 L1515.4,393.4 L1516.9,394.8 L1518.3,396.2 L1519.8,397.6 L1521.2,399.0 L1522.7,400.4 L1524.1,401.8 L1525.6,403.3 L1527.0,404.7 L1528.4,406.1 L1529.9,407.5 L1531.3,409.0 L1532.7,410.4 L1534.1,411.8 L1535.5,413.3 L1536.9,414.7 L1538.3,416.2 L1539.8,417.6 L1541.2,419.0 L1542.6,420.5 L1544.0,421.9 L1545.4,423.3 L1546.8,424.8 L1548.2,426.2 L1549.6,427.6 L1551.0,429.0 L1552.4,430.5 L1553.8,431.9 L1555.2,433.3 L1556.7,434.7 L1558.1,436.1 L1559.5,437.5 L1560.9,438.9 L1562.4,440.2 L1563.8,441.6 L1565.2,443.0 L1566.7,444.3 L1568.1,445.7 L1569.6,447.0 L1571.0,448.3 L1572.5,449.6 L1574.0,451.0 L1575.5,452.2 L1577.0,453.5 L1578.5,454.8 L1580.0,456.1 L1581.5,457.3 L1583.0,458.5 L1584.5,459.8 L1586.1,461.0 L1587.6,462.1 L1589.2,463.3 L1590.8,464.5 L1592.4,465.6 L1594.0,466.8 L1595.6,467.9 L1597.2,469.0 L1598.8,470.0 L1600.5,471.1 L1602.1,472.1 L1603.8,473.1 L1605.5,474.1 L1607.2,475.1 L1608.9,476.1 L1610.6,477.0 L1612.4,477.9 L1614.1,478.8 L1615.9,479.7 L1617.7,480.6 L1619.5,481.4 L1621.3,482.3 L1623.1,483.1 L1624.9,483.9 L1626.7,484.7 L1628.6,485.4 L1630.4,486.2 L1632.3,486.9 L1634.2,487.6 L1636.1,488.3 L1638.0,489.0 L1639.9,489.7 L1641.8,490.3 L1643.7,490.9 L1645.6,491.6 L1647.5,492.2 L1649.5,492.8 L1651.4,493.4 L1653.3,493.9 L1655.3,494.5 L1657.3,495.0 L1659.2,495.6 L1661.2,496.1 L1663.2,496.6 L1665.1,497.1 L1667.1,497.6 L1669.1,498.0 L1671.1,498.5 L1673.1,498.9 L1675.1,499.4 L1677.1,499.8 L1679.0,500.2 L1681.0,500.6 L1683.0,501.0 L1685.0,501.4 L1687.0,501.8 L1689.0,502.2 L1691.0,502.5 L1693.0,502.9 L1695.0,503.2 L1697.0,503.6 L1699.0,503.9 L1701.0,504.2 L1703.0,504.6 L1705.0,504.9 L1706.9,505.2 L1708.9,505.5 L1710.9,505.9 L1712.9,506.2 L1714.8,506.6 L1716.8,506.9 L1718.7,507.3 L1720.7,507.7 L1722.6,508.1 L1724.6,508.5 L1726.5,509.0 L1728.4,509.4 L1730.3,509.9 L1732.2,510.5 L1734.1,511.0 L1736.0,511.6 L1737.8,512.2 L1739.7,512.9 L1741.5,513.5 L1743.4,514.3 L1745.2,515.0 L1747.0,515.8 L1748.8,516.7 L1750.6,517.5 L1752.3,518.4 L1754.1,519.4 L1755.8,520.3 L1757.6,521.3 L1759.3,522.3 L1761.0,523.4 L1762.6,524.5 L1764.3,525.6 L1765.9,526.7 L1767.6,527.9 L1769.2,529.1 L1770.8,530.3 L1772.3,531.5 L1773.9,532.8 L1775.4,534.1 L1776.9,535.4 L1778.4,536.7 L1779.9,538.0 L1781.3,539.4 L1782.8,540.8 L1784.2,542.2 L1785.6,543.6 L1786.9,545.1 L1788.3,546.5 L1789.6,548.0 L1790.9,549.5 L1792.2,551.0 L1793.5,552.6 L1794.8,554.1 L1796.0,555.7 L1797.2,557.3 L1798.4,558.9 L1799.6,560.5 L1800.8,562.1 L1802.0,563.7 L1803.1,565.4 L1804.2,567.0 L1805.4,568.7 L1806.5,570.4 L1807.5,572.1 L1808.6,573.8 L1809.7,575.5 L1810.7,577.2 L1811.8,578.9 L1812.8,580.7 L1813.8,582.4 L1814.8,584.2 L1815.8,585.9 L1816.7,587.7 L1817.7,589.5 L1818.6,591.3 L1819.6,593.0 L1820.5,594.8 L1821.4,596.6 L1822.3,598.4 L1823.2,600.2 L1824.1,602.0 L1824.9,603.8 L1825.8,605.7 L1826.7,607.5 L1827.5,609.3 L1828.3,611.1 L1829.2,612.9 L1830.0,614.8 L1830.8,616.6 L1831.6,618.4 L1832.4,620.2 L1833.1,622.1 L1833.9,623.9 L1834.7,625.8 L1835.4,627.6 L1836.2,629.4 L1836.9,631.3 L1837.7,633.1 L1838.4,635.0 L1839.1,636.9 L1839.8,638.7 L1840.5,640.6 L1841.2,642.4 L1841.9,644.3 L1842.6,646.2 L1843.3,648.0 L1844.0,649.9 L1844.7,651.8 L1845.3,653.6 L1846.0,655.5 L1846.6,657.4 L1847.3,659.3 L1847.9,661.2 L1848.5,663.0 L1849.2,664.9 L1849.8,666.8 L1850.4,668.7 L1851.0,670.6 L1851.7,672.5 L1852.3,674.4 L1852.9,676.3 L1853.5,678.2 L1854.1,680.1 L1854.7,682.0 L1855.2,683.9 L1855.8,685.8 L1856.4,687.7 L1857.0,689.6 L1857.6,691.5 L1858.1,693.4 L1858.7,695.3 L1859.3,697.2 L1859.8,699.1 L1860.4,701.0 L1861.0,702.9 L1861.5,704.9 L1862.1,706.8 L1862.6,708.7 L1863.2,710.6 L1863.7,712.5 L1864.3,714.4 L1864.8,716.4 L1865.4,718.3 L1865.9,720.2 L1866.5,722.1 L1867.0,724.0 L1867.6,726.0 L1868.1,727.9 L1868.7,729.8 L1869.2,731.7 L1869.8,733.7 L1870.3,735.6 L1870.9,737.5 L1871.4,739.4 L1872.0,741.4 L1872.5,743.3 L1873.1,745.2 L1873.6,747.1 L1874.2,749.1 L1874.7,751.0 L1875.3,752.9 L1875.8,754.9 L1876.4,756.8 L1876.9,758.7 L1877.5,760.6 L1878.0,762.6 L1878.6,764.5 L1879.2,766.4 L1879.7,768.4 L1880.3,770.3 L1880.9,772.2 L1881.4,774.1 L1882.0,776.1 L1882.5,778.0 L1883.1,779.9 L1883.7,781.8 L1884.3,783.8 L1884.8,785.7 L1885.4,787.6 L1886.0,789.5 L1886.6,791.5 L1887.1,793.4 L1887.7,795.3 L1888.3,797.2 L1888.9,799.1 L1889.5,801.1 L1890.0,803.0 L1890.6,804.9 L1891.2,806.8 L1891.8,808.7 L1892.4,810.7 L1893.0,812.6 L1893.6,814.5 L1894.2,816.4 L1894.8,818.3 L1895.4,820.2 L1896.0,822.1 L1896.6,824.0 L1897.2,825.9 L1897.8,827.8 L1898.4,829.7 L1899.0,831.6 L1899.6,833.5 L1900.3,835.4 L1900.9,837.3 L1901.5,839.2 L1902.1,841.1 L1902.8,843.0 L1903.4,844.9 L1904.0,846.8 L1904.6,848.7 L1905.3,850.6 L1905.9,852.5 L1906.5,854.4 L1907.2,856.2 L1907.8,858.1 L1908.5,860.0 L1909.1,861.9 L1909.8,863.8 L1910.4,865.6 L1911.1,867.5 L1911.7,869.4 L1912.4,871.2 L1913.1,873.1 L1913.7,875.0 L1914.4,876.8 L1915.1,878.7 L1915.7,880.5 L1916.2,881.8" stroke="#008a00" stroke-dasharray="19.5 5.5 4.5 5.5"/>
</g>
<g fill="none" stroke-width="3">
<line x1="244.0" y1="53.5" x2="1917.0" y2="53.5" stroke="#5e5e5e"/>
<line x1="245.5" y1="53.5" x2="245.5" y2="1225.0" stroke="#6a6a6a"/>
<line x1="245.5" y1="1223.5" x2="1917.0" y2="1223.5" stroke="#7a7a7a"/>
<line x1="1917.8" y1="53.5" x2="1917.8" y2="1223.5" stroke="#b0b0b0" stroke-width="2.2"/>
</g>
<g fill="none" stroke="#fec60d" stroke-width="8">
<ellipse cx="869.1" cy="777.6" rx="175.9" ry="94.1"/>
<ellipse cx="1621.9" cy="518.7" rx="216.9" ry="80.6"/>
</g>
<g fill="none" stroke-width="2.8">
<line x1="430" y1="187" x2="533.5" y2="187" stroke="#000"/>
<line x1="430" y1="263.3" x2="533.5" y2="263.3" stroke="#0000ff" stroke-dasharray="26.6 5.9"/>
<line x1="430" y1="333.9" x2="533.5" y2="333.9" stroke="#008a00" stroke-dasharray="26.6 5.9 8 5.9" stroke-dashoffset="35.3"/>
</g>
<g font-family="'Liberation Serif', 'Times New Roman', serif" fill="#000">
<text x="229.5" y="78.5" font-size="75" text-anchor="end">1.5</text>
<text x="229.5" y="224.0" font-size="75" text-anchor="end">1</text>
<text x="229.5" y="369.9" font-size="75" text-anchor="end">0.5</text>
<text x="229.5" y="516.3" font-size="75" text-anchor="end">0</text>
<text x="229.5" y="663.2" font-size="75" text-anchor="end">-0.5</text>
<text x="229.5" y="809.4" font-size="75" text-anchor="end">-1</text>
<text x="229.5" y="954.9" font-size="75" text-anchor="end">-1.5</text>
<text x="229.5" y="1101.8" font-size="75" text-anchor="end">-2</text>
<text x="229.5" y="1247.0" font-size="75" text-anchor="end">-2.5</text>
<text x="245.5" y="1290.0" font-size="75" text-anchor="middle">0</text>
<text x="523.9" y="1290.0" font-size="75" text-anchor="middle">0.01</text>
<text x="802.3" y="1290.0" font-size="75" text-anchor="middle">0.02</text>
<text x="1080.7" y="1290.0" font-size="75" text-anchor="middle">0.03</text>
<text x="1359.1" y="1290.0" font-size="75" text-anchor="middle">0.04</text>
<text x="1637.5" y="1292.5" font-size="75" text-anchor="middle">0.05</text>
<text x="1915.9" y="1292.5" font-size="75" text-anchor="middle">0.06</text>
<text y="1372" font-size="90"><tspan x="911">Time</tspan><tspan x="1121.3" dy="1.5">[</tspan><tspan x="1169.3" dy="-1.5">s</tspan><tspan x="1224.3" dy="1.5">]</tspan></text>
<text transform="translate(82.3,637) rotate(-90)" x="0" y="0" font-size="89.5" text-anchor="middle">Normalized mass flow <tspan dy="2.7">[</tspan><tspan dy="-2.7"> - </tspan><tspan dy="2.7">]</tspan></text>
<text x="563.5" y="204.6" font-size="75">Original</text>
<text x="563.5" y="287" font-size="75">C1</text>
<text x="563.5" y="357" font-size="75">C2</text>
</g>
</svg>
</body></html>
